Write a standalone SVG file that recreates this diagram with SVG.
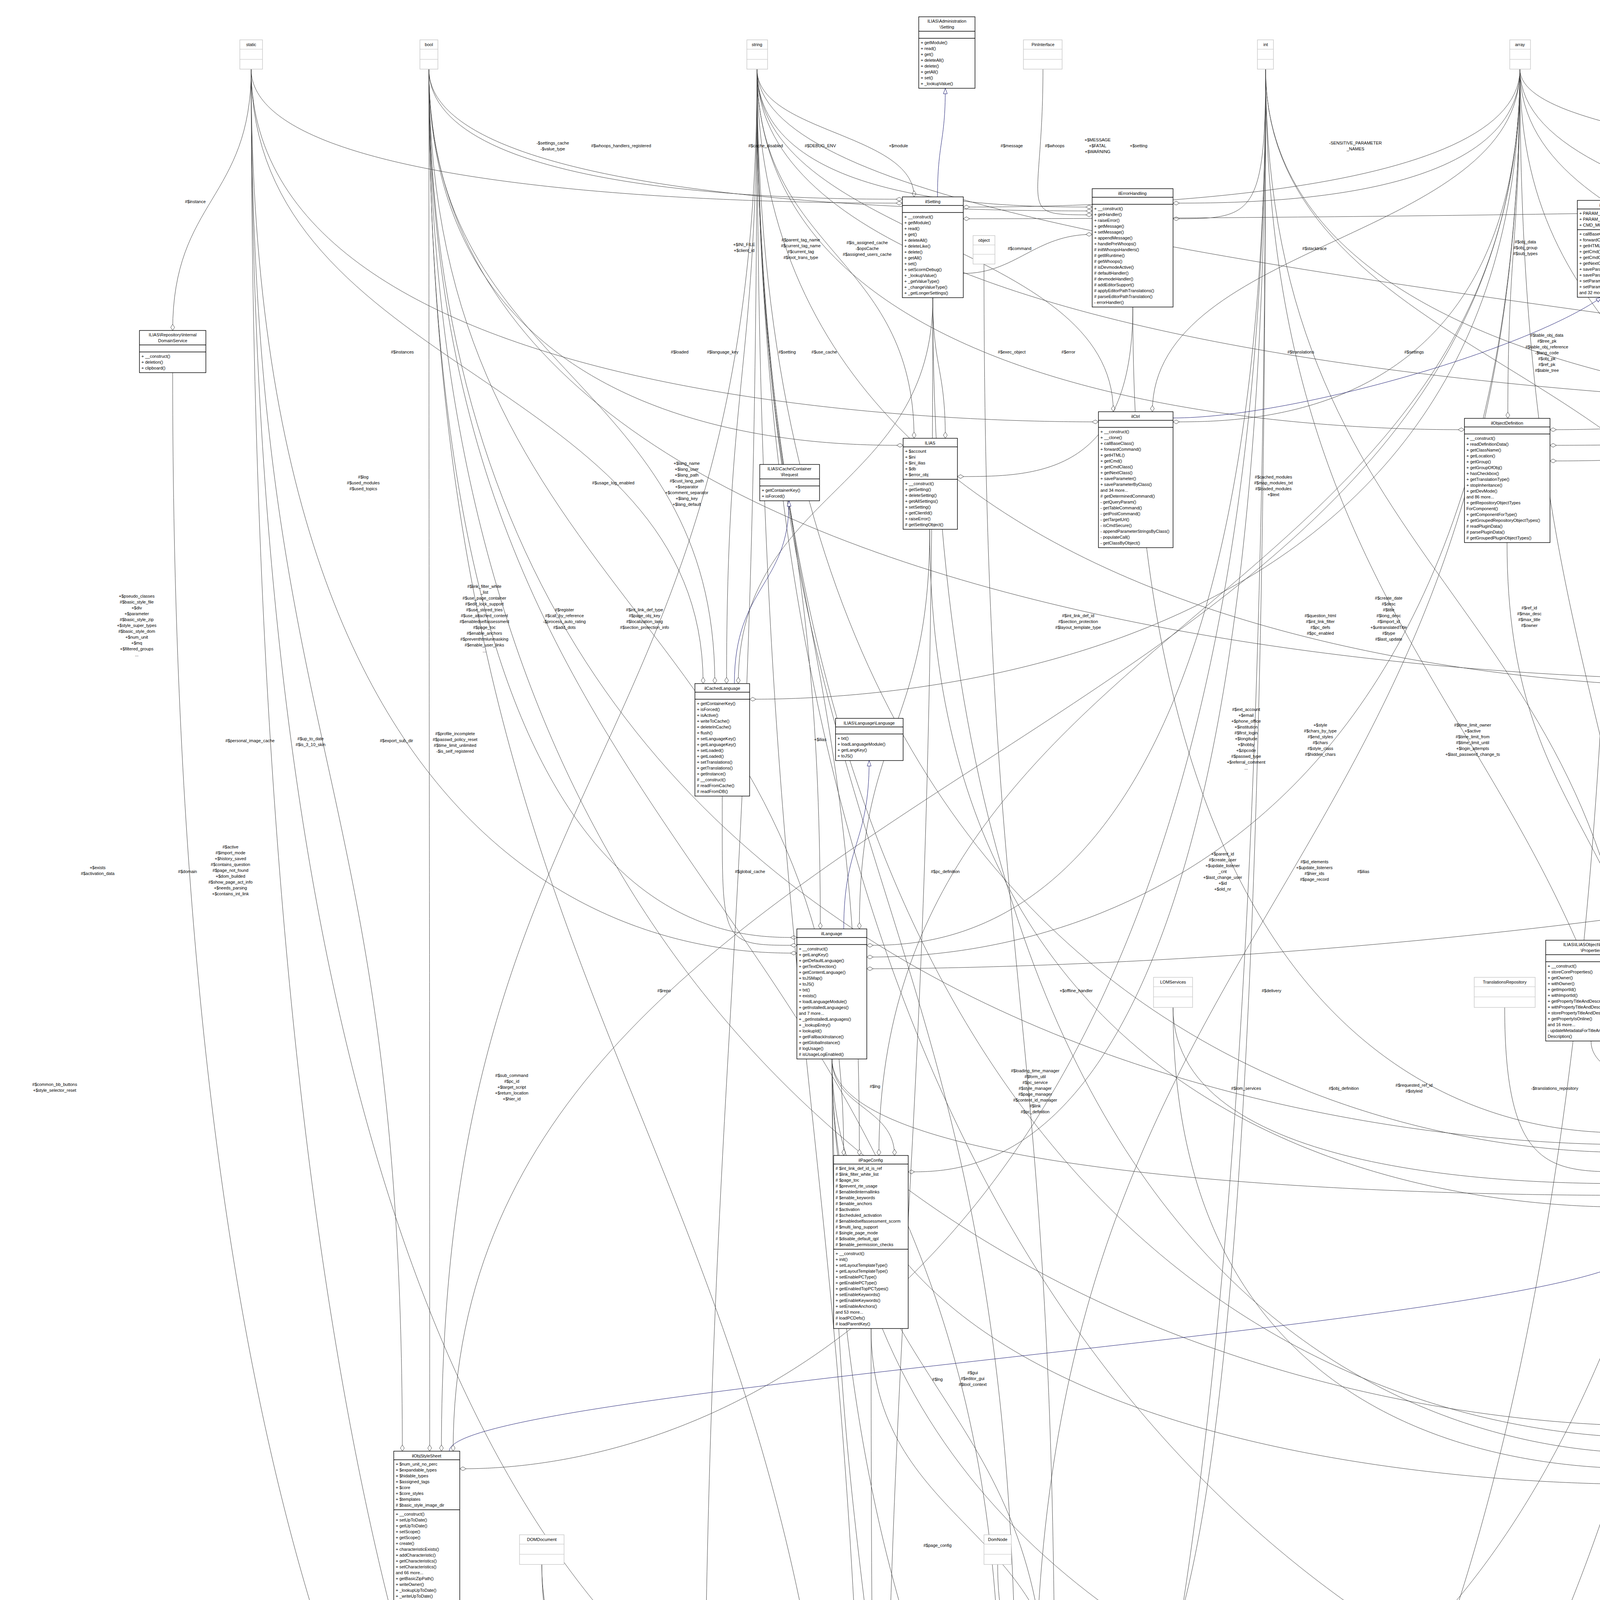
<svg xmlns="http://www.w3.org/2000/svg" width="7895" height="6132" viewBox="0 0 7895 6132">
<style>
.b{fill:#fff;stroke:#000;stroke-width:1.4}
.g{fill:#bfbfbf;stroke:#000;stroke-width:1.4}
.p{fill:#fff;stroke:#bfbfbf;stroke-width:1.2}
.s{fill:none;stroke:#000;stroke-width:1.4}
.sp{fill:none;stroke:#bfbfbf;stroke-width:1.2}
.t{font-family:"Liberation Sans",Arial,Helvetica,sans-serif;font-size:11px;fill:#000}
.c{text-anchor:middle}
.l{font-family:"Liberation Sans",Arial,Helvetica,sans-serif;font-size:11px;fill:#000;text-anchor:middle}
.e{fill:none;stroke:#404040;stroke-width:1;marker-end:url(#dia)}
.i{fill:none;stroke:#191970;stroke-width:1;marker-end:url(#tri)}
</style>
<defs>
<marker id="dia" markerUnits="userSpaceOnUse" markerWidth="18" markerHeight="12" refX="17" refY="6" orient="auto"><path d="M1,6 L9,1 L17,6 L9,11 Z" fill="#fff" stroke="#404040" stroke-width="1"/></marker>
<marker id="tri" markerUnits="userSpaceOnUse" markerWidth="16" markerHeight="12" refX="15" refY="6" orient="auto"><path d="M1,1 L15,6 L1,11 Z" fill="#fff" stroke="#191970" stroke-width="1"/></marker>
</defs>
<rect width="7895" height="6132" fill="#fff"/>
<g id="connectors">
<path class="e" d="M643 177 C643 511 442 511 442 846"/>
<path class="e" d="M643 177 C643 520 2110 520 2310 520"/>
<path class="e" d="M643 177 C643 1946 1030 1946 1030 3715"/>
<path class="e" d="M643 177 C643 2440 1840 2440 2040 2440"/>
<path class="e" d="M643 177 C643 4640 2320 4640 2520 4640"/>
<path class="e" d="M643 177 C643 5700 1936 5700 2136 5700"/>
<path class="e" d="M643 177 C643 963 1800 963 1800 1750"/>
<path class="e" d="M643 177 C643 1080 2612 1080 2812 1080"/>
<path class="e" d="M1098 177 C1098 510 2110 510 2310 510"/>
<path class="e" d="M1098 177 C1098 540 2596 540 2796 540"/>
<path class="e" d="M1098 177 C1098 2400 1840 2400 2040 2400"/>
<path class="e" d="M1098 177 C1098 1140 2112 1140 2312 1140"/>
<path class="e" d="M1098 177 C1098 1567 2160 1567 2160 2958"/>
<path class="e" d="M1098 177 C1098 1946 1100 1946 1100 3715"/>
<path class="e" d="M1098 177 C1098 2294 2560 2294 2560 4412"/>
<path class="e" d="M1098 177 C1098 2930 3970 2930 4170 2930"/>
<path class="e" d="M1098 177 C1098 3650 4028 3650 4228 3650"/>
<path class="e" d="M1098 177 C1098 1740 4226 1740 4426 1740"/>
<path class="e" d="M1098 177 C1098 2852 2180 2852 2180 5527"/>
<path class="e" d="M1098 177 C1098 963 1830 963 1830 1750"/>
<path class="e" d="M1938 177 C1938 340 2340 340 2340 504"/>
<path class="e" d="M1938 177 C1938 530 2596 530 2796 530"/>
<path class="e" d="M1938 177 C1938 650 2340 650 2340 1122"/>
<path class="e" d="M1938 177 C1938 1277 2100 1277 2100 2378"/>
<path class="e" d="M1938 177 C1938 963 1860 963 1860 1750"/>
<path class="e" d="M1938 177 C1938 1567 2200 1567 2200 2958"/>
<path class="e" d="M1938 177 C1938 1946 1130 1946 1130 3715"/>
<path class="e" d="M1938 177 C1938 2294 2600 2294 2600 4412"/>
<path class="e" d="M1938 177 C1938 2612 1800 2612 1800 5047"/>
<path class="e" d="M1938 177 C1938 2852 2220 2852 2220 5527"/>
<path class="e" d="M1938 177 C1938 615 2850 615 2850 1054"/>
<path class="e" d="M1938 177 C1938 1100 3549 1100 3749 1100"/>
<path class="e" d="M1938 177 C1938 2950 3970 2950 4170 2950"/>
<path class="e" d="M1938 177 C1938 3680 4028 3680 4228 3680"/>
<path class="e" d="M1938 177 C1938 1760 4226 1760 4426 1760"/>
<path class="e" d="M1938 177 C1938 1050 5048 1050 5248 1050"/>
<path class="e" d="M1938 177 C1938 4620 4805 4620 5005 4620"/>
<path class="e" d="M1938 177 C1938 832 6700 832 6700 1487"/>
<path class="e" d="M3240 177 C3240 560 3203 560 3003 560"/>
<path class="e" d="M3240 177 C3240 942 4480 942 4480 1708"/>
<path class="e" d="M3240 177 C3240 1523 4200 1523 4200 2869"/>
<path class="e" d="M3240 177 C3240 1880 4260 1880 4260 3582"/>
<path class="e" d="M3240 177 C3240 4450 2954 4450 2754 4450"/>
<path class="e" d="M3240 177 C3240 3000 2525 3000 2325 3000"/>
<path class="e" d="M3240 177 C3240 3760 1377 3760 1177 3760"/>
<path class="e" d="M3240 177 C3240 5600 2518 5600 2318 5600"/>
<path class="e" d="M3240 177 C3240 1080 5048 1080 5248 1080"/>
<path class="e" d="M3240 177 C3240 2420 2419 2420 2219 2420"/>
<path class="e" d="M3891 177 C3891 520 3203 520 3003 520"/>
<path class="e" d="M3891 177 C3891 1080 3203 1080 3003 1080"/>
<path class="e" d="M3891 177 C3891 624 3860 624 3860 1071"/>
<path class="e" d="M3891 177 C3891 942 4520 942 4520 1708"/>
<path class="e" d="M3891 177 C3891 683 4950 683 4950 1189"/>
<path class="e" d="M3891 177 C3891 374 4890 374 4890 571"/>
<path class="e" d="M3891 177 C3891 615 2950 615 2950 1054"/>
<path class="e" d="M3891 177 C3891 598 5300 598 5300 1019"/>
<path class="e" d="M3891 177 C3891 1880 4300 1880 4300 3582"/>
<path class="e" d="M3891 177 C3891 2294 2650 2294 2650 4412"/>
<path class="e" d="M3891 177 C3891 1567 2250 1567 2250 2958"/>
<path class="e" d="M3891 177 C3891 1790 2119 1790 1919 1790"/>
<path class="e" d="M3891 177 C3891 2450 2419 2450 2219 2450"/>
<path class="e" d="M3891 177 C3891 1946 1160 1946 1160 3715"/>
<path class="e" d="M3891 177 C3891 530 2666 530 2466 530"/>
<path class="e" d="M5551 177 C5551 344 5080 344 5080 511"/>
<path class="e" d="M5551 177 C5551 374 5860 374 5860 571"/>
<path class="e" d="M5551 177 C5551 352 6110 352 6110 527"/>
<path class="e" d="M5551 177 C5551 345 6400 345 6400 513"/>
<path class="e" d="M5551 177 C5551 1730 4851 1730 4651 1730"/>
<path class="e" d="M5551 177 C5551 598 5400 598 5400 1019"/>
<path class="e" d="M5551 177 C5551 3650 4631 3650 4431 3650"/>
<path class="e" d="M5551 177 C5551 2930 4598 2930 4398 2930"/>
<path class="e" d="M5551 177 C5551 1100 4168 1100 3968 1100"/>
<path class="e" d="M2519 676 C2519 2544 2700 2544 2700 4412"/>
<path class="e" d="M2670 177 C2670 550 2596 550 2796 550"/>
<path class="e" d="M7706 256 C7706 560 2666 560 2466 560"/>
<path class="e" d="M7706 256 C7706 1760 4851 1760 4651 1760"/>
<path class="e" d="M7706 256 C7706 2960 4598 2960 4398 2960"/>
<path class="e" d="M7706 256 C7706 3700 4631 3700 4431 3700"/>
<path class="e" d="M7706 256 C7706 1100 5666 1100 5466 1100"/>
<path class="e" d="M7706 256 C7706 1800 5637 1800 5437 1800"/>
<path class="e" d="M7706 256 C7706 5960 4933 5960 4733 5960"/>
<path class="e" d="M7706 256 C7706 1580 7039 1580 6839 1580"/>
<path class="e" d="M7706 256 C7706 4500 2954 4500 2754 4500"/>
<path class="e" d="M7706 256 C7706 2480 2419 2480 2219 2480"/>
<path class="e" d="M7706 256 C7706 1140 4168 1140 3968 1140"/>
<path class="e" d="M7706 256 C7706 1220 5236 1220 5036 1220"/>
<path class="e" d="M4518 741 C4518 1224 4560 1224 4560 1708"/>
<path class="e" d="M4518 741 C4518 965 4990 965 4990 1189"/>
<path class="e" d="M4518 741 C4518 1805 4300 1805 4300 2869"/>
<path class="e" d="M4518 741 C4518 1120 5048 1120 5248 1120"/>
<path class="e" d="M4518 741 C4518 4600 2954 4600 2754 4600"/>
<path class="e" d="M4518 741 C4518 2160 4350 2160 4350 3582"/>
<path class="e" d="M4518 741 C4518 5620 2518 5620 2318 5620"/>
<path class="e" d="M2388 762 C2388 942 2420 942 2420 1122"/>
<path class="e" d="M2466 700 C2600 700 2650 600 2796 600"/>
<path class="e" d="M2388 762 C2388 1256 1890 1256 1890 1750"/>
<path class="e" d="M2388 762 C2388 3720 4028 3720 4228 3720"/>
<path class="e" d="M2388 762 C2388 3144 2260 3144 2260 5527"/>
<path class="e" d="M4128 761 C4128 5640 2518 5640 2318 5640"/>
<path class="e" d="M5080 754 C5080 1180 4168 1180 3968 1180"/>
<path class="e" d="M5080 754 C5080 972 5010 972 5010 1189"/>
<path class="e" d="M5307 671 C5307 1240 5236 1240 5036 1240"/>
<path class="e" d="M4850 694 C4850 942 4970 942 4970 1189"/>
<path class="e" d="M5868 694 C5868 919 6680 919 6680 1144"/>
<path class="e" d="M6417 756 C6417 950 6700 950 6700 1144"/>
<path class="e" d="M6633 671 C6633 908 6720 908 6720 1144"/>
<path class="e" d="M6838 711 C6838 928 6740 928 6740 1144"/>
<path class="e" d="M7023 740 C7023 1160 7015 1160 6815 1160"/>
<path class="e" d="M7239 716 C7239 1190 7015 1190 6815 1190"/>
<path class="e" d="M7555 678 C7555 1220 7015 1220 6815 1220"/>
<path class="e" d="M5902 2808 C5902 5680 2518 5680 2318 5680"/>
<path class="e" d="M6736 1327 C6736 3800 4631 3800 4431 3800"/>
<path class="e" d="M4386 1341 C4386 1524 4440 1524 4440 1708"/>
<path class="e" d="M4970 1282 C4970 2990 4598 2990 4398 2990"/>
<path class="e" d="M4970 1282 C4970 1780 4851 1780 4651 1780"/>
<path class="e" d="M5357 1457 C5357 1613 5340 1613 5340 1769"/>
<path class="e" d="M5357 1457 C5357 3020 4598 3020 4398 3020"/>
<path class="e" d="M5300 2012 C5300 3050 4598 3050 4398 3050"/>
<path class="e" d="M3858 1389 C3858 2129 4250 2129 4250 2869"/>
<path class="e" d="M4073 2665 C4073 2767 4280 2767 4280 2869"/>
<path class="e" d="M4311 2588 C4311 2728 4340 2728 4340 2869"/>
<path class="e" d="M3852 2579 C3852 3000 3970 3000 4170 3000"/>
<path class="e" d="M3003 2579 C3003 3030 3970 3030 4170 3030"/>
<path class="e" d="M3003 2579 C3003 3760 4028 3760 4228 3760"/>
<path class="e" d="M4330 4340 C4330 5700 2518 5700 2318 5700"/>
<path class="e" d="M4330 4340 C4330 4660 4805 4660 5005 4660"/>
<path class="e" d="M4896 3219 C4896 3880 4631 3880 4431 3880"/>
<path class="e" d="M4538 2076 C4538 3334 5100 3334 5100 4592"/>
<path class="e" d="M4538 2076 C4538 2900 4598 2900 4398 2900"/>
<path class="e" d="M5915 3984 C5915 4620 5370 4620 5170 4620"/>
<path class="e" d="M5087 4790 C5087 5341 4640 5341 4640 5892"/>
<path class="e" d="M2130 2711 C2130 2835 2290 2835 2290 2958"/>
<path class="e" d="M2130 2711 C2130 3060 3970 3060 4170 3060"/>
<path class="e" d="M2130 2711 C2130 3561 2680 3561 2680 4412"/>
<path class="e" d="M2130 2711 C2130 4119 2300 4119 2300 5527"/>
<path class="e" d="M2130 2711 C2130 3800 4028 3800 4228 3800"/>
<path class="e" d="M2130 2711 C2130 4700 4805 4700 5005 4700"/>
<path class="e" d="M2130 2711 C2130 5940 4331 5940 4531 5940"/>
<path class="e" d="M1849 2038 C1849 2420 1840 2420 2040 2420"/>
<path class="e" d="M2380 1355 C2380 1866 2200 1866 2200 2378"/>
<path class="e" d="M2380 1355 C2380 3090 3970 3090 4170 3090"/>
<path class="e" d="M2230 3401 C2230 3906 2720 3906 2720 4412"/>
<path class="e" d="M2230 3401 C2230 4464 2240 4464 2240 5527"/>
<path class="e" d="M1387 4005 C1387 4660 2320 4660 2520 4660"/>
<path class="e" d="M1387 4005 C1387 4526 1760 4526 1760 5047"/>
<path class="e" d="M2554 4005 C2554 4208 2610 4208 2610 4412"/>
<path class="e" d="M1907 4738 C1907 4892 1930 4892 1930 5047"/>
<path class="e" d="M1568 4741 C1568 5090 1535 5090 1735 5090"/>
<path class="e" d="M1760 4746 C1760 4896 1860 4896 1860 5047"/>
<path class="e" d="M2637 4990 C2637 5190 2154 5190 1954 5190"/>
<path class="e" d="M2637 4990 C2637 5258 2280 5258 2280 5527"/>
<path class="e" d="M1845 5455 C1845 5600 1936 5600 2136 5600"/>
<path class="e" d="M848 5276 C848 5640 1936 5640 2136 5640"/>
<path class="e" d="M1032 5341 C1032 5650 1936 5650 2136 5650"/>
<path class="e" d="M1090 4218 C1090 5660 1936 5660 2136 5660"/>
<path class="e" d="M5791 2341 C5791 5660 2518 5660 2318 5660"/>
<path class="e" d="M2900 786 C2900 1220 2651 1220 2451 1220"/>
<path class="e" d="M2900 786 C2900 2900 3970 2900 4170 2900"/>
<path class="e" d="M442 954 C442 5620 1936 5620 2136 5620"/>
<path class="e" d="M6733 1670 C6733 3900 4631 3900 4431 3900"/>
<path class="i" d="M3003 1070 C3300 1070 3900 900 4100 761"/>
<path class="i" d="M7330 548 C7330 400 7330 400 7330 264"/>
<path class="i" d="M7540 585 C7540 420 7420 420 7420 264"/>
<path class="i" d="M5902 2750 C5902 1700 6122 1700 6122 740"/>
<path class="i" d="M4330 3582 L4330 3487"/>
<path class="i" d="M1150 3715 C1150 3560 3900 3400 4170 3225"/>
<path class="i" d="M5900 3926 C5900 3600 5783 3600 5783 3310"/>
<path class="i" d="M5915 3926 C5915 3600 6045 3600 6045 3248"/>
<path class="i" d="M5930 3926 C5930 3600 6291 3600 6291 3282"/>
<path class="i" d="M4531 5960 C4000 5900 2800 5750 2318 5720"/>
<path class="i" d="M1880 1750 C1880 1500 2020 1500 2020 1282"/>
<path class="i" d="M2160 2378 C2160 2160 2225 2160 2225 1947"/>
<path class="i" d="M848 5213 C848 4970 900 4970 900 4721"/>
<path class="i" d="M2400 504 C2400 365 2420 365 2420 226"/>
<g id="labels">
<text class="l" x="500" y="520">#$instance</text>
<text class="l" x="1030" y="905">#$instances</text>
<text class="l" x="1415" y="370">-$settings_cache</text><text class="l" x="1415" y="385">-$value_type</text>
<text class="l" x="1590" y="377">#$whoops_handlers_registered</text>
<text class="l" x="1960" y="377">#$cache_disabled</text>
<text class="l" x="2100" y="377">#$DEBUG_ENV</text>
<text class="l" x="1905" y="630">+$INI_FILE</text><text class="l" x="1905" y="645">+$client_id</text>
<text class="l" x="2300" y="377">+$module</text>
<text class="l" x="2590" y="377">#$message</text>
<text class="l" x="2050" y="618">#$parent_tag_name</text><text class="l" x="2050" y="633">#$current_tag_name</text><text class="l" x="2050" y="648">#$current_tag</text><text class="l" x="2050" y="663">#$root_trans_type</text>
<text class="l" x="2220" y="625">#$is_assigned_cache</text><text class="l" x="2220" y="640">-$opsCache</text><text class="l" x="2220" y="655">#$assigned_users_cache</text>
<text class="l" x="1740" y="905">#$loaded</text>
<text class="l" x="1850" y="905">#$language_key</text>
<text class="l" x="2015" y="905">#$setting</text>
<text class="l" x="2110" y="905">#$use_cache</text>
<text class="l" x="2590" y="905">#$exec_object</text>
<text class="l" x="2700" y="377">#$whoops</text>
<text class="l" x="2810" y="362">+$MESSAGE</text><text class="l" x="2810" y="377">+$FATAL</text><text class="l" x="2810" y="392">+$WARNING</text>
<text class="l" x="2915" y="377">+$setting</text>
<text class="l" x="3470" y="370">-SENSITIVE_PARAMETER</text><text class="l" x="3470" y="385">_NAMES</text>
<text class="l" x="4250" y="377">#$db</text>
<text class="l" x="4780" y="305">+CMD_MODE_HTML</text><text class="l" x="4780" y="320">+PARAM_CMD</text><text class="l" x="4780" y="335">+PARAM_CMD_FALLBACK</text><text class="l" x="4780" y="350">+PARAM_CMD_MODE</text><text class="l" x="4780" y="365">+PARAM_CMD_CLASS</text><text class="l" x="4780" y="380">+CMD_POST</text><text class="l" x="4780" y="395">+CMD_MODE_PROCESS</text><text class="l" x="4780" y="410">+PROTECTED_PARAMETERS</text><text class="l" x="4780" y="425">+PARAM_CID_PATH</text><text class="l" x="4780" y="440">+PARAM_CSRF_TOKEN</text><text class="l" x="4780" y="455">...</text>
<text class="l" x="5000" y="377">#$event_handling_data</text>
<text class="l" x="5180" y="377">+PLUGIN_BASE_PATH</text>
<text class="l" x="5440" y="377">#$observer_groups</text>
<text class="l" x="5960" y="370">-$id_cache</text><text class="l" x="5960" y="385">-$cache</text>
<text class="l" x="6190" y="340">+MESSAGE_TYPE_SUCCESS</text><text class="l" x="6190" y="355">+MESSAGE_TYPE_FAILURE</text><text class="l" x="6190" y="370">+MESSAGE_TYPE_INFO</text><text class="l" x="6190" y="385">+MESSAGE_TYPES</text><text class="l" x="6190" y="400">+MESSAGE_TYPE_QUESTION</text><text class="l" x="6190" y="415">+DEFAULT_BLOCK</text>
<text class="l" x="7780" y="640">+TABLE_NAME</text>
<text class="l" x="2610" y="640">#$command</text>
<text class="l" x="3365" y="640">#$stacktrace</text>
<text class="l" x="3905" y="623">#$obj_data</text><text class="l" x="3905" y="638">#$obj_group</text><text class="l" x="3905" y="653">#$sub_types</text>
<text class="l" x="4358" y="623">-MODE_REPOSITORY</text><text class="l" x="4358" y="638">+MODE_ADMINISTRATION</text><text class="l" x="4358" y="653">+MODE_WORKSPACE</text>
<text class="l" x="4718" y="640">#$listener</text>
<text class="l" x="5280" y="640">#$db</text>
<text class="l" x="5690" y="602">+FILTER_NOT_INTERNAL</text><text class="l" x="5690" y="617">+FILTER_ALL_GLOBAL</text><text class="l" x="5690" y="632">+FILTER_ALL</text><text class="l" x="5690" y="647">+FILTER_INTERNAL</text><text class="l" x="5690" y="662">+FILTER_TEMPLATES</text><text class="l" x="5690" y="677">+FILTER_ALL_LOCAL</text>
<text class="l" x="2735" y="905">#$error</text>
<text class="l" x="3330" y="905">#$translations</text>
<text class="l" x="3620" y="905">#$settings</text>
<text class="l" x="3960" y="862">#$table_obj_data</text><text class="l" x="3960" y="877">#$tree_pk</text><text class="l" x="3960" y="892">#$table_obj_reference</text><text class="l" x="3960" y="907">-$lang_code</text><text class="l" x="3960" y="922">#$obj_pk</text><text class="l" x="3960" y="937">#$ref_pk</text><text class="l" x="3960" y="952">#$table_tree</text>
<text class="l" x="4126" y="890">#$tree_id</text><text class="l" x="4126" y="905">-$gap</text><text class="l" x="4126" y="920">#$root_id</text>
<text class="l" x="4320" y="862">#$loc_preloaded</text><text class="l" x="4320" y="877">#$translation_cache</text><text class="l" x="4320" y="892">#$is_saved_cache</text><text class="l" x="4320" y="907">-$in_tree_cache</text><text class="l" x="4320" y="922">-$obj_id_cache</text><text class="l" x="4320" y="937">#$parent_cache</text><text class="l" x="4320" y="952">#$parent_type_cache</text><text class="l" x="4320" y="967">#$depth_cache</text>
<text class="l" x="4630" y="905">#$logger</text>
<text class="l" x="4700" y="905">#$log</text>
<text class="l" x="4870" y="905">#$component_repository</text>
<text class="l" x="5040" y="905">-$event_handling_data</text>
<text class="l" x="5330" y="905">#$component_factory</text>
<text class="l" x="5910" y="905">#$events</text>
<text class="l" x="6590" y="905">#$collections</text>
<text class="l" x="6710" y="905">#$preloader</text>
<text class="l" x="6830" y="905">#$flavours</text>
<text class="l" x="6960" y="905">#$consumers</text>
<text class="l" x="7130" y="905">#$container_manager</text>
<text class="l" x="7290" y="905">#$manager</text>
<text class="l" x="7540" y="905">#$db</text>
<text class="l" x="7690" y="905">#$db</text>
<text class="l" x="5550" y="820">+TREE_TYPE_NESTED_SET</text><text class="l" x="5550" y="835">+RELATION_PARENT</text><text class="l" x="5550" y="850">+RELATION_CHILD</text><text class="l" x="5550" y="865">+TREE_TYPE_MATERIALIZED</text><text class="l" x="5550" y="880">_PATH</text><text class="l" x="5550" y="895">#DEFAULT_LANGUAGE</text><text class="l" x="5550" y="910">+RELATION_SIBLING</text><text class="l" x="5550" y="925">+POS_FIRST_NODE</text><text class="l" x="5550" y="940">+RELATION_EQUALS</text><text class="l" x="5550" y="955">+POS_LAST_NODE</text><text class="l" x="5550" y="970">+RELATION_NONE</text><text class="l" x="5550" y="985">...</text>
<text class="l" x="6040" y="862">#QPL_KEY</text><text class="l" x="6040" y="877">#ERROR_KEY</text><text class="l" x="6040" y="892">#BASE_SESSION_KEY</text><text class="l" x="6040" y="907">#TXT_LANG_KEY</text><text class="l" x="6040" y="922">#SUB_CMD_KEY</text><text class="l" x="6040" y="937">#WEP_KEY</text>
<text class="l" x="4500" y="1580">-$tree_impl</text>
<text class="l" x="4730" y="1580">+$objectList</text>
<text class="l" x="4880" y="1580">#$eventHandler</text>
<text class="l" x="4600" y="1240">#$logger</text>
<text class="l" x="5020" y="1240">#$logger</text>
<text class="l" x="5360" y="1580">#$rbacreview</text>
<text class="l" x="5990" y="1560">+TABLE_OBJECT_DATA</text><text class="l" x="5990" y="1575">+LONG_DESC_LENGTH</text><text class="l" x="5990" y="1590">+TITLE_LENGTH</text><text class="l" x="5990" y="1605">+DESC_LENGTH</text>
<text class="l" x="6280" y="1882">+PASSWD_CRYPTED</text><text class="l" x="6280" y="1897">+NO_AVATAR_RID</text><text class="l" x="6280" y="1912">+PASSWD_PLAIN</text>
<text class="l" x="5650" y="1845">+$prefs</text><text class="l" x="5650" y="1860">+$user_defined_data</text><text class="l" x="5650" y="1875">#$interests_help</text><text class="l" x="5650" y="1890">_offered</text><text class="l" x="5650" y="1905">#$interests_general</text><text class="l" x="5650" y="1920">#$oldPrefs</text><text class="l" x="5650" y="1935">#$interests_help</text><text class="l" x="5650" y="1950">_looking</text>
<text class="l" x="6050" y="2530">-$cron_delete_user</text><text class="l" x="6050" y="2545">_reminder_mail</text>
<text class="l" x="6591" y="1583">#$db</text>
<text class="l" x="7442" y="2231">#$db</text>
<text class="l" x="4230" y="2230">#$obj_definition</text>
<text class="l" x="5320" y="2230">#$app_event_handler</text>
<text class="l" x="5510" y="2230">#$rbac_review</text>
<text class="l" x="4630" y="2540">#$tree</text>
<text class="l" x="5040" y="2540">#$log</text>
<text class="l" x="5520" y="2540">#$rbac_admin</text>
<text class="l" x="3980" y="2790">-$translations_repository</text>
<text class="l" x="4180" y="2790">-$object_properties</text>
<text class="l" x="4360" y="2790">-$properties_aggregator</text>
<text class="l" x="3190" y="2790">#$lom_services</text>
<text class="l" x="3440" y="2790">#$obj_definition</text>
<text class="l" x="3125" y="4375">#$user</text>
<text class="l" x="3320" y="4375">#$lom_services</text>
<text class="l" x="4800" y="4375">#$current_user</text>
<text class="l" x="4980" y="3585">#$date_format_factory</text>
<text class="l" x="5120" y="3180">#$tree</text>
<text class="l" x="5540" y="3960">#$edit_repo</text>
<text class="l" x="5560" y="4380">#$access</text>
<text class="l" x="5610" y="5250">#$user</text>
<text class="l" x="4950" y="5570">#$service</text>
<text class="l" x="1920" y="2235">#$global_cache</text>
<text class="l" x="2100" y="1897">+$ilias</text>
<text class="l" x="2240" y="2785">#$lng</text>
<text class="l" x="2420" y="2235">#$pc_definition</text>
<text class="l" x="1700" y="2540">#$repo</text>
<text class="l" x="2400" y="3535">#$lng</text>
<text class="l" x="2000" y="4375">+$lng</text>
<text class="l" x="2180" y="4375">+$dom</text>
<text class="l" x="2650" y="4370">+$node</text>
<text class="l" x="2150" y="4690">+$page_config</text>
<text class="l" x="1350" y="5020">#$dom</text>
<text class="l" x="1700" y="5020">#$page_manager</text>
<text class="l" x="1790" y="5035">#$object</text>
<text class="l" x="1905" y="5020">+$dom_node</text>
<text class="l" x="2230" y="4995">#$pg_obj</text>
<text class="l" x="2520" y="5250">+$pg_obj</text>
<text class="l" x="1930" y="5490">+$content_obj</text>
<text class="l" x="1050" y="5490">#$error_manager</text>
<text class="l" x="1140" y="5490">#$request</text>
<text class="l" x="1190" y="5010">#$style</text>
<text class="l" x="460" y="4950">#$domain</text>
<text class="l" x="2400" y="3960">#$page_config</text>
<text class="l" x="2490" y="3518">#$gui</text><text class="l" x="2490" y="3533">#$editor_gui</text><text class="l" x="2490" y="3548">#$tool_context</text>
<text class="l" x="350" y="1530">+$pseudo_classes</text><text class="l" x="350" y="1545">#$basic_style_file</text><text class="l" x="350" y="1560">+$div</text><text class="l" x="350" y="1575">+$parameter</text><text class="l" x="350" y="1590">#$basic_style_zip</text><text class="l" x="350" y="1605">+$style_super_types</text><text class="l" x="350" y="1620">#$basic_style_dom</text><text class="l" x="350" y="1635">+$num_unit</text><text class="l" x="350" y="1650">+$mq</text><text class="l" x="350" y="1665">+$filtered_groups</text><text class="l" x="350" y="1680">...</text>
<text class="l" x="590" y="2172">#$active</text><text class="l" x="590" y="2187">#$import_mode</text><text class="l" x="590" y="2202">+$history_saved</text><text class="l" x="590" y="2217">#$contains_question</text><text class="l" x="590" y="2232">#$page_not_found</text><text class="l" x="590" y="2247">+$dom_builded</text><text class="l" x="590" y="2262">#$show_page_act_info</text><text class="l" x="590" y="2277">+$needs_parsing</text><text class="l" x="590" y="2292">+$contains_int_link</text>
<text class="l" x="250" y="2225">+$exists</text><text class="l" x="250" y="2240">#$activation_data</text>
<text class="l" x="480" y="2235">#$domain</text>
<text class="l" x="640" y="1900">#$personal_image_cache</text>
<text class="l" x="795" y="1895">#$up_to_date</text><text class="l" x="795" y="1910">#$is_3_10_skin</text>
<text class="l" x="1015" y="1900">#$export_sub_dir</text>
<text class="l" x="1165" y="1882">#$profile_incomplete</text><text class="l" x="1165" y="1897">#$passwd_policy_reset</text><text class="l" x="1165" y="1912">#$time_limit_unlimited</text><text class="l" x="1165" y="1927">-$is_self_registered</text>
<text class="l" x="1310" y="2757">#$sub_command</text><text class="l" x="1310" y="2772">#$pc_id</text><text class="l" x="1310" y="2787">+$target_script</text><text class="l" x="1310" y="2802">+$return_location</text><text class="l" x="1310" y="2817">+$hier_id</text>
<text class="l" x="140" y="2780">#$common_bb_buttons</text><text class="l" x="140" y="2795">+$style_selector_reset</text>
<text class="l" x="1240" y="1505">#$link_filter_white</text><text class="l" x="1240" y="1520">_list</text><text class="l" x="1240" y="1535">#$use_page_container</text><text class="l" x="1240" y="1550">#$edit_lock_support</text><text class="l" x="1240" y="1565">#$use_stored_tries</text><text class="l" x="1240" y="1580">#$use_attached_content</text><text class="l" x="1240" y="1595">#$enabledselfassessment</text><text class="l" x="1240" y="1610">#$page_toc</text><text class="l" x="1240" y="1625">#$enable_anchors</text><text class="l" x="1240" y="1640">#$preventhtmlunmasking</text><text class="l" x="1240" y="1655">#$enable_user_links</text><text class="l" x="1240" y="1670">...</text>
<text class="l" x="1445" y="1565">#$register</text><text class="l" x="1445" y="1580">#$call_by_reference</text><text class="l" x="1445" y="1595">-$process_auto_rating</text><text class="l" x="1445" y="1610">#$add_dots</text>
<text class="l" x="1650" y="1565">#$int_link_def_type</text><text class="l" x="1650" y="1580">#$page_obj_key</text><text class="l" x="1650" y="1595">#$localization_lang</text><text class="l" x="1650" y="1610">#$section_protection_info</text>
<text class="l" x="1758" y="1190">+$lang_name</text><text class="l" x="1758" y="1205">+$lang_user</text><text class="l" x="1758" y="1220">+$lang_path</text><text class="l" x="1758" y="1235">#$cust_lang_path</text><text class="l" x="1758" y="1250">+$separator</text><text class="l" x="1758" y="1265">+$comment_separator</text><text class="l" x="1758" y="1280">+$lang_key</text><text class="l" x="1758" y="1295">+$lang_default</text>
<text class="l" x="1570" y="1240">#$usage_log_enabled</text>
<text class="l" x="930" y="1225">#$log</text><text class="l" x="930" y="1240">#$used_modules</text><text class="l" x="930" y="1255">#$used_topics</text>
<text class="l" x="2760" y="1580">#$int_link_def_id</text><text class="l" x="2760" y="1595">#$section_protection</text><text class="l" x="2760" y="1610">#$layout_template_type</text>
<text class="l" x="3260" y="1225">#$cached_modules</text><text class="l" x="3260" y="1240">#$map_modules_txt</text><text class="l" x="3260" y="1255">#$loaded_modules</text><text class="l" x="3260" y="1270">+$text</text>
<text class="l" x="3380" y="1580">#$question_html</text><text class="l" x="3380" y="1595">#$int_link_filter</text><text class="l" x="3380" y="1610">#$pc_defs</text><text class="l" x="3380" y="1625">#$pc_enabled</text>
<text class="l" x="3555" y="1535">#$create_date</text><text class="l" x="3555" y="1550">#$desc</text><text class="l" x="3555" y="1565">#$title</text><text class="l" x="3555" y="1580">#$long_desc</text><text class="l" x="3555" y="1595">#$import_id</text><text class="l" x="3555" y="1610">+$untranslatedTitle</text><text class="l" x="3555" y="1625">#$type</text><text class="l" x="3555" y="1640">#$last_update</text>
<text class="l" x="3915" y="1560">#$ref_id</text><text class="l" x="3915" y="1575">#$max_desc</text><text class="l" x="3915" y="1590">#$max_title</text><text class="l" x="3915" y="1605">#$owner</text>
<text class="l" x="3190" y="1820">#$ext_account</text><text class="l" x="3190" y="1835">+$email</text><text class="l" x="3190" y="1850">+$phone_office</text><text class="l" x="3190" y="1865">+$institution</text><text class="l" x="3190" y="1880">#$first_login</text><text class="l" x="3190" y="1895">+$longitude</text><text class="l" x="3190" y="1910">+$hobby</text><text class="l" x="3190" y="1925">+$zipcode</text><text class="l" x="3190" y="1940">#$passwd_type</text><text class="l" x="3190" y="1955">+$referral_comment</text><text class="l" x="3190" y="1970">...</text>
<text class="l" x="3380" y="1860">+$style</text><text class="l" x="3380" y="1875">#$chars_by_type</text><text class="l" x="3380" y="1890">#$end_styles</text><text class="l" x="3380" y="1905">#$chars</text><text class="l" x="3380" y="1920">#$style_class</text><text class="l" x="3380" y="1935">#$hidden_chars</text>
<text class="l" x="3770" y="1860">#$time_limit_owner</text><text class="l" x="3770" y="1875">+$active</text><text class="l" x="3770" y="1890">#$time_limit_from</text><text class="l" x="3770" y="1905">#$time_limit_until</text><text class="l" x="3770" y="1920">+$login_attempts</text><text class="l" x="3770" y="1935">+$last_password_change_ts</text>
<text class="l" x="4283" y="1890">#$obj_log</text><text class="l" x="4283" y="1905">#$log</text>
<text class="l" x="3130" y="2190">+$parent_id</text><text class="l" x="3130" y="2205">#$create_user</text><text class="l" x="3130" y="2220">+$update_listener</text><text class="l" x="3130" y="2235">_cnt</text><text class="l" x="3130" y="2250">+$last_change_user</text><text class="l" x="3130" y="2265">+$id</text><text class="l" x="3130" y="2280">+$old_nr</text>
<text class="l" x="3365" y="2210">#$id_elements</text><text class="l" x="3365" y="2225">+$update_listeners</text><text class="l" x="3365" y="2240">#$hier_ids</text><text class="l" x="3365" y="2255">#$page_record</text>
<text class="l" x="3490" y="2235">#$ilias</text>
<text class="l" x="2755" y="2540">+$offline_handler</text>
<text class="l" x="3255" y="2540">#$delivery</text>
<text class="l" x="2650" y="2745">#$loading_time_manager</text><text class="l" x="2650" y="2760">#$form_util</text><text class="l" x="2650" y="2775">#$pc_service</text><text class="l" x="2650" y="2790">#$style_manager</text><text class="l" x="2650" y="2805">#$page_manager</text><text class="l" x="2650" y="2820">#$content_id_manager</text><text class="l" x="2650" y="2835">#$link</text><text class="l" x="2650" y="2850">#$pc_definition</text>
<text class="l" x="3620" y="2782">#$requested_ref_id</text><text class="l" x="3620" y="2797">#$styleid</text>
</g>
</g>
<g id="n_static"><rect class="p" x="614" y="102" width="58" height="75"/><text class="t c" x="643" y="118">static</text><path class="sp" d="M614 126H672M614 152H672"/></g>
<g id="n_bool"><rect class="p" x="1075" y="102" width="46" height="75"/><text class="t c" x="1098" y="118">bool</text><path class="sp" d="M1075 126H1121M1075 152H1121"/></g>
<g id="n_string"><rect class="p" x="1912" y="102" width="53" height="75"/><text class="t c" x="1938" y="118">string</text><path class="sp" d="M1912 126H1965M1912 152H1965"/></g>
<g id="n_PinInterface"><rect class="p" x="2620" y="102" width="99" height="75"/><text class="t c" x="2670" y="118">PinInterface</text><path class="sp" d="M2620 126H2719M2620 152H2719"/></g>
<g id="n_int"><rect class="p" x="3219" y="102" width="41" height="75"/><text class="t c" x="3240" y="118">int</text><path class="sp" d="M3219 126H3260M3219 152H3260"/></g>
<g id="n_array"><rect class="p" x="3865" y="102" width="53" height="75"/><text class="t c" x="3891" y="118">array</text><path class="sp" d="M3865 126H3918M3865 152H3918"/></g>
<g id="n_const"><rect class="p" x="5525" y="102" width="53" height="75"/><text class="t c" x="5551" y="118">const</text><path class="sp" d="M5525 126H5578M5525 152H5578"/></g>
<g id="n_object"><rect class="p" x="2491" y="603" width="56" height="73"/><text class="t c" x="2519" y="619">object</text><path class="sp" d="M2491 627H2547M2491 651H2547"/></g>
<g id="n_DOMDocument"><rect class="p" x="1330" y="3929" width="114" height="76"/><text class="t c" x="1387" y="3945">DOMDocument</text><path class="sp" d="M1330 3953H1444M1330 3979H1444"/></g>
<g id="n_DomNode"><rect class="p" x="2519" y="3929" width="70" height="76"/><text class="t c" x="2554" y="3945">DomNode</text><path class="sp" d="M2519 3953H2589M2519 3979H2589"/></g>
<g id="n_DOMNode"><rect class="p" x="1866" y="4658" width="83" height="80"/><text class="t c" x="1907" y="4674">DOMNode</text><path class="sp" d="M1866 4682H1949M1866 4708H1949"/></g>
<g id="n_LOMServices"><rect class="p" x="2953" y="2502" width="100" height="77"/><text class="t c" x="3003" y="2518">LOMServices</text><path class="sp" d="M2953 2526H3053M2953 2552H3053"/></g>
<g id="n_TranslationsRepository"><rect class="p" x="3774" y="2502" width="156" height="77"/><text class="t c" x="3852" y="2518">TranslationsRepository</text><path class="sp" d="M3774 2526H3930M3774 2552H3930"/></g>
<g id="n_DataFormatFactory"><rect class="p" x="4829" y="3141" width="134" height="78"/><text class="t c" x="4896" y="3157">DataFormatFactory</text><path class="sp" d="M4829 3165H4963M4829 3191H4963"/></g>
<g id="n_DomainService"><rect class="b" x="357" y="846" width="170" height="108"/><text class="t c" x="442" y="861">ILIAS\Repository\Internal</text><text class="t c" x="442" y="876">DomainService</text><path class="s" d="M357 883H527M357 901H527"/><text class="t" x="362" y="916"><tspan x="362">+ __construct()</tspan><tspan x="362" dy="15">+ deletion()</tspan><tspan x="362" dy="15">+ clipboard()</tspan></text></g>
<g id="n_AdminSetting"><rect class="b" x="2352" y="43" width="144" height="183"/><text class="t c" x="2424" y="58">ILIAS\Administration</text><text class="t c" x="2424" y="73">\Setting</text><path class="s" d="M2352 80H2496M2352 98H2496"/><text class="t" x="2357" y="113"><tspan x="2357">+ getModule()</tspan><tspan x="2357" dy="15">+ read()</tspan><tspan x="2357" dy="15">+ get()</tspan><tspan x="2357" dy="15">+ deleteAll()</tspan><tspan x="2357" dy="15">+ delete()</tspan><tspan x="2357" dy="15">+ getAll()</tspan><tspan x="2357" dy="15">+ set()</tspan><tspan x="2357" dy="15">+ _lookupValue()</tspan></text></g>
<g id="n_ilSetting"><rect class="b" x="2310" y="504" width="156" height="258"/><text class="t c" x="2388" y="520">ilSetting</text><path class="s" d="M2310 526H2466M2310 544H2466"/><text class="t" x="2315" y="559"><tspan x="2315">+ __construct()</tspan><tspan x="2315" dy="15">+ getModule()</tspan><tspan x="2315" dy="15">+ read()</tspan><tspan x="2315" dy="15">+ get()</tspan><tspan x="2315" dy="15">+ deleteAll()</tspan><tspan x="2315" dy="15">+ deleteLike()</tspan><tspan x="2315" dy="15">+ delete()</tspan><tspan x="2315" dy="15">+ getAll()</tspan><tspan x="2315" dy="15">+ set()</tspan><tspan x="2315" dy="15">+ setScormDebug()</tspan><tspan x="2315" dy="15">+ _lookupValue()</tspan><tspan x="2315" dy="15">+ _getValueType()</tspan><tspan x="2315" dy="15">+ _changeValueType()</tspan><tspan x="2315" dy="15">+ _getLongerSettings()</tspan></text></g>
<g id="n_ilErrorHandling"><rect class="b" x="2796" y="483" width="207" height="303"/><text class="t c" x="2899" y="499">ilErrorHandling</text><path class="s" d="M2796 505H3003M2796 523H3003"/><text class="t" x="2801" y="538"><tspan x="2801">+ __construct()</tspan><tspan x="2801" dy="15">+ getHandler()</tspan><tspan x="2801" dy="15">+ raiseError()</tspan><tspan x="2801" dy="15">+ getMessage()</tspan><tspan x="2801" dy="15">+ setMessage()</tspan><tspan x="2801" dy="15">+ appendMessage()</tspan><tspan x="2801" dy="15">+ handlePreWhoops()</tspan><tspan x="2801" dy="15"># initWhoopsHandlers()</tspan><tspan x="2801" dy="15"># getIlRuntime()</tspan><tspan x="2801" dy="15"># getWhoops()</tspan><tspan x="2801" dy="15"># isDevmodeActive()</tspan><tspan x="2801" dy="15"># defaultHandler()</tspan><tspan x="2801" dy="15"># devmodeHandler()</tspan><tspan x="2801" dy="15"># addEditorSupport()</tspan><tspan x="2801" dy="15"># applyEditorPathTranslations()</tspan><tspan x="2801" dy="15"># parseEditorPathTranslation()</tspan><tspan x="2801" dy="15">- errorHandler()</tspan></text></g>
<g id="n_ilCtrlInterface"><rect class="b" x="4038" y="513" width="179" height="248"/><text class="t c" x="4127" y="529">ilCtrlInterface</text><path class="s" d="M4038 535H4217M4038 588H4217"/><text class="t" x="4043" y="550"><tspan x="4043">+ PARAM_REDIRECT</tspan><tspan x="4043" dy="15">+ PARAM_BASE_CLASS</tspan><tspan x="4043" dy="15">+ CMD_MODE_ASYNC</tspan></text><text class="t" x="4043" y="603"><tspan x="4043">+ callBaseClass()</tspan><tspan x="4043" dy="15">+ forwardCommand()</tspan><tspan x="4043" dy="15">+ getHTML()</tspan><tspan x="4043" dy="15">+ getCmd()</tspan><tspan x="4043" dy="15">+ getCmdClass()</tspan><tspan x="4043" dy="15">+ getNextClass()</tspan><tspan x="4043" dy="15">+ saveParameter()</tspan><tspan x="4043" dy="15">+ saveParameterByClass()</tspan><tspan x="4043" dy="15">+ setParameter()</tspan><tspan x="4043" dy="15">+ setParameterByClass()</tspan><tspan x="4043" dy="15">and 32 more...</tspan></text></g>
<g id="n_ilLogger"><rect class="b" x="4464" y="528" width="109" height="213"/><text class="t c" x="4518" y="544">ilLogger</text><path class="s" d="M4464 550H4573M4464 568H4573"/><text class="t" x="4469" y="583"><tspan x="4469">+ __construct()</tspan><tspan x="4469" dy="15">+ isHandling()</tspan><tspan x="4469" dy="15">+ log()</tspan><tspan x="4469" dy="15">+ dump()</tspan><tspan x="4469" dy="15">+ debug()</tspan><tspan x="4469" dy="15">+ info()</tspan><tspan x="4469" dy="15">+ notice()</tspan><tspan x="4469" dy="15">+ warning()</tspan><tspan x="4469" dy="15">+ error()</tspan><tspan x="4469" dy="15">+ critical()</tspan><tspan x="4469" dy="15">and 7 more...</tspan></text></g>
<g id="n_ilArtifactEventHandlingData"><rect class="b" x="4761" y="571" width="179" height="123"/><text class="t c" x="4850" y="587">ilArtifactEventHandlingData</text><path class="s" d="M4761 593H4940M4761 611H4940"/><text class="t" x="4766" y="626"><tspan x="4766">+ __construct()</tspan><tspan x="4766" dy="15">+ hasEvent()</tspan><tspan x="4766" dy="15">+ getEvent()</tspan><tspan x="4766" dy="15">+ getEventsByType()</tspan><tspan x="4766" dy="15"># readEventHandlingData()</tspan></text></g>
<g id="n_ilComponentRepository"><rect class="b" x="4967" y="511" width="228" height="243"/><text class="t c" x="5081" y="527">ilComponentRepository</text><path class="s" d="M4967 533H5195M4967 551H5195"/><text class="t" x="4972" y="566"><tspan x="4972">+ hasComponent()</tspan><tspan x="4972" dy="15">+ hasComponentId()</tspan><tspan x="4972" dy="15">+ getComponents()</tspan><tspan x="4972" dy="15">+ getComponentById()</tspan><tspan x="4972" dy="15">+ getComponentByTypeAndName()</tspan><tspan x="4972" dy="15">+ hasPluginSlotId()</tspan><tspan x="4972" dy="15">+ getPluginSlots()</tspan><tspan x="4972" dy="15">+ getPluginSlotById()</tspan><tspan x="4972" dy="15">+ hasPluginId()</tspan><tspan x="4972" dy="15">+ getPlugins()</tspan><tspan x="4972" dy="15">+ getPluginById()</tspan><tspan x="4972" dy="15">+ getPluginByName()</tspan><tspan x="4972" dy="15">+ hasActivatedPlugin()</tspan></text></g>
<g id="n_ilComponentFactory"><rect class="b" x="5221" y="593" width="173" height="78"/><text class="t c" x="5307" y="609">ilComponentFactory</text><path class="s" d="M5221 615H5394M5221 633H5394"/><text class="t" x="5226" y="648"><tspan x="5226">+ getPlugin()</tspan><tspan x="5226" dy="15">+ getActivePluginsInSlot()</tspan></text></g>
<g id="n_EventsSubject"><rect class="b" x="5789" y="571" width="158" height="123"/><text class="t c" x="5868" y="586">ILIAS\ResourceStorage</text><text class="t c" x="5868" y="601">\Events\Subject</text><path class="s" d="M5789 608H5947M5789 626H5947"/><text class="t" x="5794" y="641"><tspan x="5794">+ __construct()</tspan><tspan x="5794" dy="15">+ attach()</tspan><tspan x="5794" dy="15">+ detach()</tspan><tspan x="5794" dy="15"># initObserverGroup()</tspan></text></g>
<g id="n_GlobalTemplate"><rect class="b" x="6023" y="527" width="198" height="213"/><text class="t c" x="6122" y="543">ILIAS\UI\Core\GlobalTemplate</text><path class="s" d="M6023 549H6221M6023 567H6221"/><text class="t" x="6028" y="582"><tspan x="6028">+ hideFooter()</tspan><tspan x="6028" dy="15">+ setOnScreenMessage()</tspan><tspan x="6028" dy="15">+ addJavaScript()</tspan><tspan x="6028" dy="15">+ addOnLoadCode()</tspan><tspan x="6028" dy="15">+ getOnLoadCodeForAsynch()</tspan><tspan x="6028" dy="15">+ resetJavascript()</tspan><tspan x="6028" dy="15">+ fillJavaScriptFiles()</tspan><tspan x="6028" dy="15">+ addCss()</tspan><tspan x="6028" dy="15">+ addInlineCss()</tspan><tspan x="6028" dy="15">+ setBodyClass()</tspan><tspan x="6028" dy="15">and 32 more...</tspan></text></g>
<g id="n_Collections"><rect class="b" x="6327" y="513" width="181" height="243"/><text class="t c" x="6417" y="528">ILIAS\Export\ImportHandler</text><text class="t c" x="6417" y="543">\Parser\NodeInfo\Collection</text><text class="t c" x="6417" y="558">\Collections</text><path class="s" d="M6327 565H6508M6327 583H6508"/><text class="t" x="6332" y="598"><tspan x="6332">+ __construct()</tspan><tspan x="6332" dy="15">+ all()</tspan><tspan x="6332" dy="15">+ exists()</tspan><tspan x="6332" dy="15">+ atOrNull()</tspan><tspan x="6332" dy="15">+ get()</tspan><tspan x="6332" dy="15">+ store()</tspan><tspan x="6332" dy="15">+ clone()</tspan><tspan x="6332" dy="15">+ remove()</tspan><tspan x="6332" dy="15">+ rangeAsArray()</tspan><tspan x="6332" dy="15">+ rangeAsGenerator()</tspan><tspan x="6332" dy="15">+ sort()</tspan></text></g>
<g id="n_RepositoryPreloader"><rect class="b" x="6533" y="593" width="201" height="78"/><text class="t c" x="6633" y="608">ILIAS\ResourceStorage</text><text class="t c" x="6633" y="623">\Preloader\RepositoryPreloader</text><path class="s" d="M6533 630H6734M6533 648H6734"/><text class="t" x="6538" y="663">+ preload()</text></g>
<g id="n_Flavours"><rect class="b" x="6758" y="558" width="160" height="153"/><text class="t c" x="6838" y="573">ILIAS\ResourceStorage</text><text class="t c" x="6838" y="588">\Flavour\Flavours</text><path class="s" d="M6758 595H6918M6758 613H6918"/><text class="t" x="6763" y="628"><tspan x="6763">+ __construct()</tspan><tspan x="6763" dy="15">+ get()</tspan><tspan x="6763" dy="15">+ ensure()</tspan><tspan x="6763" dy="15">+ has()</tspan><tspan x="6763" dy="15">+ remove()</tspan><tspan x="6763" dy="15">+ possible()</tspan></text></g>
<g id="n_Consumers"><rect class="b" x="6944" y="527" width="158" height="213"/><text class="t c" x="7023" y="542">ILIAS\Legal\Documents</text><text class="t c" x="7023" y="557">\Consumer\Consumers</text><path class="s" d="M6944 564H7102M6944 582H7102"/><text class="t" x="6949" y="597"><tspan x="6949">+ __construct()</tspan><tspan x="6949" dy="15">+ download()</tspan><tspan x="6949" dy="15">+ inline()</tspan><tspan x="6949" dy="15">+ stream()</tspan><tspan x="6949" dy="15">+ src()</tspan><tspan x="6949" dy="15">+ downloadCollection()</tspan><tspan x="6949" dy="15">+ downloadResources()</tspan><tspan x="6949" dy="15">+ flavourUrls()</tspan><tspan x="6949" dy="15">+ containerZIP()</tspan><tspan x="6949" dy="15">+ containerURI()</tspan></text></g>
<g id="n_ContainerManager"><rect class="b" x="7130" y="548" width="218" height="168"/><text class="t c" x="7239" y="563">ILIAS\ResourceStorage</text><text class="t c" x="7239" y="578">\Manager\ContainerManager</text><path class="s" d="M7130 585H7348M7130 603H7348"/><text class="t" x="7135" y="618"><tspan x="7135">+ containerFromUpload()</tspan><tspan x="7135" dy="15">+ containerFromStream()</tspan><tspan x="7135" dy="15">+ createDirectoryInsideContainer()</tspan><tspan x="7135" dy="15">+ removePathInsideContainer()</tspan><tspan x="7135" dy="15">+ addUploadToContainer()</tspan><tspan x="7135" dy="15">+ addStreamToContainer()</tspan><tspan x="7135" dy="15"># normalizePath()</tspan></text></g>
<g id="n_Manager"><rect class="b" x="7475" y="585" width="160" height="93"/><text class="t c" x="7555" y="600">ILIAS\ResourceStorage</text><text class="t c" x="7555" y="615">\Manager\Manager</text><path class="s" d="M7475 622H7635M7475 640H7635"/><text class="t" x="7480" y="655"><tspan x="7480">+ upload()</tspan><tspan x="7480" dy="15">+ stream()</tspan></text></g>
<g id="n_BaseManager"><rect class="b" x="7245" y="6" width="233" height="258"/><text class="t c" x="7361" y="21">ILIAS\ResourceStorage</text><text class="t c" x="7361" y="36">\Manager\BaseManager</text><path class="s" d="M7245 43H7478M7245 61H7478"/><text class="t" x="7250" y="76"><tspan x="7250">+ __construct()</tspan><tspan x="7250" dy="15">+ publish()</tspan><tspan x="7250" dy="15">+ unpublish()</tspan><tspan x="7250" dy="15">+ find()</tspan><tspan x="7250" dy="15">+ getResource()</tspan><tspan x="7250" dy="15">+ remove()</tspan><tspan x="7250" dy="15">+ clone()</tspan><tspan x="7250" dy="15">+ appendNewRevision()</tspan><tspan x="7250" dy="15">+ replaceWithUpload()</tspan><tspan x="7250" dy="15">+ appendNewRevisionFromStream()</tspan><tspan x="7250" dy="15">and 6 more...</tspan><tspan x="7250" dy="15"># checkZIP()</tspan><tspan x="7250" dy="15"># newStreamBased()</tspan></text></g>
<g id="n_ilDBInterface"><rect class="b" x="7588" y="13" width="236" height="243"/><text class="t c" x="7706" y="29">ilDBInterface</text><path class="s" d="M7588 35H7824M7588 53H7824"/><text class="t" x="7593" y="68"><tspan x="7593">+ doesCollationSupportMB4Strings()</tspan><tspan x="7593" dy="15">+ sanitizeMB4StringIfNotSupported()</tspan><tspan x="7593" dy="15">+ initFromIniFile()</tspan><tspan x="7593" dy="15">+ connect()</tspan><tspan x="7593" dy="15">+ nextId()</tspan><tspan x="7593" dy="15">+ createTable()</tspan><tspan x="7593" dy="15">+ addPrimaryKey()</tspan><tspan x="7593" dy="15">+ createSequence()</tspan><tspan x="7593" dy="15">+ getSequenceName()</tspan><tspan x="7593" dy="15">+ tableExists()</tspan><tspan x="7593" dy="15">and 78 more...</tspan><tspan x="7593" dy="15">+ getReservedWords()</tspan><tspan x="7593" dy="15">+ isReservedWord()</tspan></text></g>
<g id="n_ILIAS"><rect class="b" x="2312" y="1122" width="139" height="233"/><text class="t c" x="2381" y="1138">ILIAS</text><path class="s" d="M2312 1144H2451M2312 1227H2451"/><text class="t" x="2317" y="1159"><tspan x="2317">+ $account</tspan><tspan x="2317" dy="15">+ $ini</tspan><tspan x="2317" dy="15">+ $ini_ilias</tspan><tspan x="2317" dy="15">+ $db</tspan><tspan x="2317" dy="15">+ $error_obj</tspan></text><text class="t" x="2317" y="1242"><tspan x="2317">+ __construct()</tspan><tspan x="2317" dy="15">+ getSetting()</tspan><tspan x="2317" dy="15">+ deleteSetting()</tspan><tspan x="2317" dy="15">+ getAllSettings()</tspan><tspan x="2317" dy="15">+ setSetting()</tspan><tspan x="2317" dy="15">+ getClientId()</tspan><tspan x="2317" dy="15">+ raiseError()</tspan><tspan x="2317" dy="15"># getSettingObject()</tspan></text></g>
<g id="n_Request"><rect class="b" x="1945" y="1189" width="153" height="93"/><text class="t c" x="2021" y="1204">ILIAS\Cache\Container</text><text class="t c" x="2021" y="1219">\Request</text><path class="s" d="M1945 1226H2098M1945 1244H2098"/><text class="t" x="1950" y="1259"><tspan x="1950">+ getContainerKey()</tspan><tspan x="1950" dy="15">+ isForced()</tspan></text></g>
<g id="n_ilCachedLanguage"><rect class="b" x="1779" y="1750" width="140" height="288"/><text class="t c" x="1849" y="1766">ilCachedLanguage</text><path class="s" d="M1779 1772H1919M1779 1790H1919"/><text class="t" x="1784" y="1805"><tspan x="1784">+ getContainerKey()</tspan><tspan x="1784" dy="15">+ isForced()</tspan><tspan x="1784" dy="15">+ isActive()</tspan><tspan x="1784" dy="15">+ writeToCache()</tspan><tspan x="1784" dy="15">+ deleteInCache()</tspan><tspan x="1784" dy="15">+ flush()</tspan><tspan x="1784" dy="15">+ setLanguageKey()</tspan><tspan x="1784" dy="15">+ getLanguageKey()</tspan><tspan x="1784" dy="15">+ setLoaded()</tspan><tspan x="1784" dy="15">+ getLoaded()</tspan><tspan x="1784" dy="15">+ setTranslations()</tspan><tspan x="1784" dy="15">+ getTranslations()</tspan><tspan x="1784" dy="15">+ getInstance()</tspan><tspan x="1784" dy="15"># __construct()</tspan><tspan x="1784" dy="15"># readFromCache()</tspan><tspan x="1784" dy="15"># readFromDB()</tspan></text></g>
<g id="n_Language"><rect class="b" x="2139" y="1839" width="173" height="108"/><text class="t c" x="2225" y="1855">ILIAS\Language\Language</text><path class="s" d="M2139 1861H2312M2139 1879H2312"/><text class="t" x="2144" y="1894"><tspan x="2144">+ txt()</tspan><tspan x="2144" dy="15">+ loadLanguageModule()</tspan><tspan x="2144" dy="15">+ getLangKey()</tspan><tspan x="2144" dy="15">+ toJS()</tspan></text></g>
<g id="n_ilLanguage"><rect class="b" x="2040" y="2378" width="179" height="333"/><text class="t c" x="2129" y="2394">ilLanguage</text><path class="s" d="M2040 2400H2219M2040 2418H2219"/><text class="t" x="2045" y="2433"><tspan x="2045">+ __construct()</tspan><tspan x="2045" dy="15">+ getLangKey()</tspan><tspan x="2045" dy="15">+ getDefaultLanguage()</tspan><tspan x="2045" dy="15">+ getTextDirection()</tspan><tspan x="2045" dy="15">+ getContentLanguage()</tspan><tspan x="2045" dy="15">+ toJSMap()</tspan><tspan x="2045" dy="15">+ toJS()</tspan><tspan x="2045" dy="15">+ txt()</tspan><tspan x="2045" dy="15">+ exists()</tspan><tspan x="2045" dy="15">+ loadLanguageModule()</tspan><tspan x="2045" dy="15">+ getInstalledLanguages()</tspan><tspan x="2045" dy="15">and 7 more...</tspan><tspan x="2045" dy="15">+ _getInstalledLanguages()</tspan><tspan x="2045" dy="15">+ _lookupEntry()</tspan><tspan x="2045" dy="15">+ lookupId()</tspan><tspan x="2045" dy="15">+ getFallbackInstance()</tspan><tspan x="2045" dy="15">+ getGlobalInstance()</tspan><tspan x="2045" dy="15"># logUsage()</tspan><tspan x="2045" dy="15"># isUsageLogEnabled()</tspan></text></g>
<g id="n_ilPageConfig"><rect class="b" x="2134" y="2958" width="191" height="443"/><text class="t c" x="2229" y="2974">ilPageConfig</text><path class="s" d="M2134 2980H2325M2134 3198H2325"/><text class="t" x="2139" y="2995"><tspan x="2139"># $int_link_def_id_is_ref</tspan><tspan x="2139" dy="15"># $link_filter_white_list</tspan><tspan x="2139" dy="15"># $page_toc</tspan><tspan x="2139" dy="15"># $prevent_rte_usage</tspan><tspan x="2139" dy="15"># $enabledinternallinks</tspan><tspan x="2139" dy="15"># $enable_keywords</tspan><tspan x="2139" dy="15"># $enable_anchors</tspan><tspan x="2139" dy="15"># $activation</tspan><tspan x="2139" dy="15"># $scheduled_activation</tspan><tspan x="2139" dy="15"># $enabledselfassessment_scorm</tspan><tspan x="2139" dy="15"># $multi_lang_support</tspan><tspan x="2139" dy="15"># $single_page_mode</tspan><tspan x="2139" dy="15"># $disable_default_qpl</tspan><tspan x="2139" dy="15"># $enable_permission_checks</tspan></text><text class="t" x="2139" y="3213"><tspan x="2139">+ __construct()</tspan><tspan x="2139" dy="15">+ init()</tspan><tspan x="2139" dy="15">+ setLayoutTemplateType()</tspan><tspan x="2139" dy="15">+ getLayoutTemplateType()</tspan><tspan x="2139" dy="15">+ setEnablePCType()</tspan><tspan x="2139" dy="15">+ getEnablePCType()</tspan><tspan x="2139" dy="15">+ getEnabledTopPCTypes()</tspan><tspan x="2139" dy="15">+ setEnableKeywords()</tspan><tspan x="2139" dy="15">+ getEnableKeywords()</tspan><tspan x="2139" dy="15">+ setEnableAnchors()</tspan><tspan x="2139" dy="15">and 53 more...</tspan><tspan x="2139" dy="15"># loadPCDefs()</tspan><tspan x="2139" dy="15"># loadParentKey()</tspan></text></g>
<g id="n_ilCtrl"><rect class="b" x="2812" y="1054" width="191" height="348"/><text class="t c" x="2907" y="1070">ilCtrl</text><path class="s" d="M2812 1076H3003M2812 1094H3003"/><text class="t" x="2817" y="1109"><tspan x="2817">+ __construct()</tspan><tspan x="2817" dy="15">+ __clone()</tspan><tspan x="2817" dy="15">+ callBaseClass()</tspan><tspan x="2817" dy="15">+ forwardCommand()</tspan><tspan x="2817" dy="15">+ getHTML()</tspan><tspan x="2817" dy="15">+ getCmd()</tspan><tspan x="2817" dy="15">+ getCmdClass()</tspan><tspan x="2817" dy="15">+ getNextClass()</tspan><tspan x="2817" dy="15">+ saveParameter()</tspan><tspan x="2817" dy="15">+ saveParameterByClass()</tspan><tspan x="2817" dy="15">and 34 more...</tspan><tspan x="2817" dy="15"># getDeterminedCommand()</tspan><tspan x="2817" dy="15">- getQueryParam()</tspan><tspan x="2817" dy="15">- getTableCommand()</tspan><tspan x="2817" dy="15">- getPostCommand()</tspan><tspan x="2817" dy="15">- getTargetUrl()</tspan><tspan x="2817" dy="15">- isCmdSecure()</tspan><tspan x="2817" dy="15">- appendParameterStringsByClass()</tspan><tspan x="2817" dy="15">- populateCall()</tspan><tspan x="2817" dy="15">- getClassByObject()</tspan></text></g>
<g id="n_ilObjectDefinition"><rect class="b" x="3749" y="1071" width="219" height="318"/><text class="t c" x="3858" y="1087">ilObjectDefinition</text><path class="s" d="M3749 1093H3968M3749 1111H3968"/><text class="t" x="3754" y="1126"><tspan x="3754">+ __construct()</tspan><tspan x="3754" dy="15">+ readDefinitionData()</tspan><tspan x="3754" dy="15">+ getClassName()</tspan><tspan x="3754" dy="15">+ getLocation()</tspan><tspan x="3754" dy="15">+ getGroup()</tspan><tspan x="3754" dy="15">+ getGroupOfObj()</tspan><tspan x="3754" dy="15">+ hasCheckbox()</tspan><tspan x="3754" dy="15">+ getTranslationType()</tspan><tspan x="3754" dy="15">+ stopInheritance()</tspan><tspan x="3754" dy="15">+ getDevMode()</tspan><tspan x="3754" dy="15">and 86 more...</tspan><tspan x="3754" dy="15">+ getRepositoryObjectTypes</tspan><tspan x="3754" dy="15">ForComponent()</tspan><tspan x="3754" dy="15">+ getComponentForType()</tspan><tspan x="3754" dy="15">+ getGroupedRepositoryObjectTypes()</tspan><tspan x="3754" dy="15"># readPluginData()</tspan><tspan x="3754" dy="15"># parsePluginData()</tspan><tspan x="3754" dy="15"># getGroupedPluginObjectTypes()</tspan></text></g>
<g id="n_ilTreeImplementation"><rect class="b" x="4297" y="1128" width="179" height="213"/><text class="t c" x="4386" y="1144">ilTreeImplementation</text><path class="s" d="M4297 1150H4476M4297 1168H4476"/><text class="t" x="4302" y="1183"><tspan x="4302">+ getSubTreeIds()</tspan><tspan x="4302" dy="15">+ getSubTreeQuery()</tspan><tspan x="4302" dy="15">+ getTrashSubTreeQuery()</tspan><tspan x="4302" dy="15">+ getRelation()</tspan><tspan x="4302" dy="15">+ getPathIds()</tspan><tspan x="4302" dy="15">+ insertNode()</tspan><tspan x="4302" dy="15">+ deleteTree()</tspan><tspan x="4302" dy="15">+ moveToTrash()</tspan><tspan x="4302" dy="15">+ moveTree()</tspan><tspan x="4302" dy="15">+ getSubtreeInfo()</tspan><tspan x="4302" dy="15">+ validateParentRelations()</tspan></text></g>
<g id="n_ilAppEventHandler"><rect class="b" x="4905" y="1189" width="131" height="93"/><text class="t c" x="4970" y="1205">ilAppEventHandler</text><path class="s" d="M4905 1211H5036M4905 1229H5036"/><text class="t" x="4910" y="1244"><tspan x="4910">+ __construct()</tspan><tspan x="4910" dy="15">+ raise()</tspan><tspan x="4910" dy="15"># initListeners()</tspan></text></g>
<g id="n_ilTree"><rect class="b" x="4426" y="1708" width="225" height="368"/><text class="t c" x="4538" y="1724">ilTree</text><path class="s" d="M4426 1730H4651M4426 1753H4651"/><text class="t" x="4431" y="1745"># DEFAULT_GAP</text><text class="t" x="4431" y="1768"><tspan x="4431">+ __construct()</tspan><tspan x="4431" dy="15">+ initTreeImplementation()</tspan><tspan x="4431" dy="15">+ getTreeImplementation()</tspan><tspan x="4431" dy="15">+ useCache()</tspan><tspan x="4431" dy="15">+ getDepthCache()</tspan><tspan x="4431" dy="15">+ getParentCache()</tspan><tspan x="4431" dy="15">+ initLangCode()</tspan><tspan x="4431" dy="15">+ getTreeTable()</tspan><tspan x="4431" dy="15">+ getObjectDataTable()</tspan><tspan x="4431" dy="15">+ getTreePk()</tspan><tspan x="4431" dy="15">and 80 more...</tspan><tspan x="4431" dy="15">+ lookupTreesForNode()</tspan><tspan x="4431" dy="15">+ _removeEntry()</tspan><tspan x="4431" dy="15"># isCacheUsed()</tspan><tspan x="4431" dy="15"># resetInTreeCache()</tspan><tspan x="4431" dy="15"># fetchTranslationFromObject</tspan><tspan x="4431" dy="15">DataCache()</tspan><tspan x="4431" dy="15"># __renumber()</tspan><tspan x="4431" dy="15"># __checkDelete()</tspan><tspan x="4431" dy="15"># __getSubTreeByParentRelation()</tspan><tspan x="4431" dy="15"># __validateSubtrees()</tspan><tspan x="4431" dy="15"># isRepositoryTree()</tspan></text></g>
<g id="n_Properties"><rect class="b" x="3957" y="2407" width="232" height="258"/><text class="t c" x="4073" y="2422">ILIAS\ILIASObject\Properties</text><text class="t c" x="4073" y="2437">\Properties</text><path class="s" d="M3957 2444H4189M3957 2462H4189"/><text class="t" x="3962" y="2477"><tspan x="3962">+ __construct()</tspan><tspan x="3962" dy="15">+ storeCoreProperties()</tspan><tspan x="3962" dy="15">+ getOwner()</tspan><tspan x="3962" dy="15">+ withOwner()</tspan><tspan x="3962" dy="15">+ getImportId()</tspan><tspan x="3962" dy="15">+ withImportId()</tspan><tspan x="3962" dy="15">+ getPropertyTitleAndDescription()</tspan><tspan x="3962" dy="15">+ withPropertyTitleAndDescription()</tspan><tspan x="3962" dy="15">+ storePropertyTitleAndDescription()</tspan><tspan x="3962" dy="15">+ getPropertyIsOnline()</tspan><tspan x="3962" dy="15">and 16 more...</tspan><tspan x="3962" dy="15">- updateMetadataForTitleAnd</tspan><tspan x="3962" dy="15">Description()</tspan></text></g>
<g id="n_Aggregator"><rect class="b" x="4214" y="2480" width="195" height="108"/><text class="t c" x="4311" y="2495">ILIAS\ILIASObject\Properties</text><text class="t c" x="4311" y="2510">\Aggregator</text><path class="s" d="M4214 2517H4409M4214 2535H4409"/><text class="t" x="4219" y="2550"><tspan x="4219">+ __construct()</tspan><tspan x="4219" dy="15">+ getFor()</tspan><tspan x="4219" dy="15">+ preload()</tspan></text></g>
<g id="n_ilObject"><rect class="b" x="4170" y="2869" width="228" height="618"/><text class="t c" x="4284" y="2885">ilObject</text><path class="s" d="M4170 2891H4398M4170 2909H4398"/><text class="t" x="4175" y="2924"><tspan x="4175">+ getObjectProperties()</tspan><tspan x="4175" dy="15">+ flushObjectProperties()</tspan><tspan x="4175" dy="15">+ withReferences()</tspan><tspan x="4175" dy="15">+ processAutoRating()</tspan><tspan x="4175" dy="15">+ read()</tspan><tspan x="4175" dy="15">+ getId()</tspan><tspan x="4175" dy="15">+ setId()</tspan><tspan x="4175" dy="15">+ setRefId()</tspan><tspan x="4175" dy="15">+ getRefId()</tspan><tspan x="4175" dy="15">+ getType()</tspan><tspan x="4175" dy="15">and 40 more...</tspan><tspan x="4175" dy="15">+ _lookupObjIdByImportId()</tspan><tspan x="4175" dy="15">+ _lookupImportId()</tspan><tspan x="4175" dy="15">+ _lookupOwnerName()</tspan><tspan x="4175" dy="15">+ _getIdsForImportId()</tspan><tspan x="4175" dy="15">+ _getAllReferences()</tspan><tspan x="4175" dy="15">+ _lookupTitle()</tspan><tspan x="4175" dy="15">+ _lookupOfflineStatus()</tspan><tspan x="4175" dy="15">+ _lookupOwner()</tspan><tspan x="4175" dy="15">+ _getIdsForTitle()</tspan><tspan x="4175" dy="15">+ _lookupDescription()</tspan><tspan x="4175" dy="15">and 27 more...</tspan><tspan x="4175" dy="15"># doMDUpdateListener()</tspan><tspan x="4175" dy="15"># beforeMDUpdateListener()</tspan><tspan x="4175" dy="15"># doCreateMetaData()</tspan><tspan x="4175" dy="15"># beforeCreateMetaData()</tspan><tspan x="4175" dy="15"># doUpdateMetaData()</tspan><tspan x="4175" dy="15"># beforeUpdateMetaData()</tspan><tspan x="4175" dy="15"># doDeleteMetaData()</tspan><tspan x="4175" dy="15"># beforeDeleteMetaData()</tspan><tspan x="4175" dy="15"># handleAutoRating()</tspan><tspan x="4175" dy="15"># hasAutoRating()</tspan><tspan x="4175" dy="15">- appendCopyInfoToTranslations()</tspan><tspan x="4175" dy="15">- getCallbackForTitlesPerLanguage</tspan><tspan x="4175" dy="15">Transformation()</tspan><tspan x="4175" dy="15">- appendNumberOfCopiesToTitle()</tspan><tspan x="4175" dy="15">- isTitleUnique()</tspan><tspan x="4175" dy="15">- buildTitleWithoutCopySuffix()</tspan></text></g>
<g id="n_ilObjUser"><rect class="b" x="4228" y="3582" width="203" height="758"/><text class="t c" x="4329" y="3598">ilObjUser</text><path class="s" d="M4228 3604H4431M4228 3942H4431"/><text class="t" x="4233" y="3619"><tspan x="4233">+ $login</tspan><tspan x="4233" dy="15">+ $gender</tspan><tspan x="4233" dy="15">+ $utitle</tspan><tspan x="4233" dy="15">+ $firstname</tspan><tspan x="4233" dy="15">+ $lastname</tspan><tspan x="4233" dy="15">+ $fullname</tspan><tspan x="4233" dy="15">+ $department</tspan><tspan x="4233" dy="15">+ $street</tspan><tspan x="4233" dy="15">+ $city</tspan><tspan x="4233" dy="15">+ $country</tspan><tspan x="4233" dy="15">and 42 more...</tspan><tspan x="4233" dy="15"># $time_limit_message</tspan><tspan x="4233" dy="15"># $last_login</tspan><tspan x="4233" dy="15"># $passwd</tspan><tspan x="4233" dy="15"># $password_encoding_type</tspan><tspan x="4233" dy="15"># $password_salt</tspan><tspan x="4233" dy="15"># $birthday</tspan><tspan x="4233" dy="15"># $second_email</tspan><tspan x="4233" dy="15"># $inactivation_date</tspan><tspan x="4233" dy="15"># $org_units</tspan><tspan x="4233" dy="15"># $last_profile_prompt</tspan><tspan x="4233" dy="15"># $avatar_rid</tspan></text><text class="t" x="4233" y="3957"><tspan x="4233">+ __construct()</tspan><tspan x="4233" dy="15">+ read()</tspan><tspan x="4233" dy="15">+ getPasswordEncodingType()</tspan><tspan x="4233" dy="15">+ setPasswordEncodingType()</tspan><tspan x="4233" dy="15">+ getPasswordSalt()</tspan><tspan x="4233" dy="15">+ setPasswordSalt()</tspan><tspan x="4233" dy="15">+ assignData()</tspan><tspan x="4233" dy="15">+ saveAsNew()</tspan><tspan x="4233" dy="15">+ update()</tspan><tspan x="4233" dy="15">+ writeAccepted()</tspan><tspan x="4233" dy="15">and 169 more...</tspan><tspan x="4233" dy="15">+ _lookupFullname()</tspan><tspan x="4233" dy="15">+ _lookupEmail()</tspan><tspan x="4233" dy="15">+ _lookupGender()</tspan><tspan x="4233" dy="15">+ _lookupClientIP()</tspan><tspan x="4233" dy="15">+ _lookupName()</tspan><tspan x="4233" dy="15">+ _lookupFields()</tspan><tspan x="4233" dy="15">+ _lookupLogin()</tspan><tspan x="4233" dy="15">+ _lookupExternalAccount()</tspan><tspan x="4233" dy="15">+ _lookupId()</tspan><tspan x="4233" dy="15">+ _lookupLastLogin()</tspan><tspan x="4233" dy="15">and 82 more...</tspan><tspan x="4233" dy="15"># buildTextFromArray()</tspan><tspan x="4233" dy="15"># readMultiTextFields()</tspan><tspan x="4233" dy="15"># deleteMultiTextFields()</tspan><tspan x="4233" dy="15">- _lookupLoginFromAuth()</tspan></text></g>
<g id="n_ilLearningHistoryService"><rect class="b" x="5005" y="4592" width="165" height="198"/><text class="t c" x="5087" y="4608">ilLearningHistoryService</text><path class="s" d="M5005 4614H5170M5005 4632H5170"/><text class="t" x="5010" y="4647"><tspan x="5010">+ __construct()</tspan><tspan x="5010" dy="15">+ request()</tspan><tspan x="5010" dy="15">+ repositoryTree()</tspan><tspan x="5010" dy="15">+ access()</tspan><tspan x="5010" dy="15">+ user()</tspan><tspan x="5010" dy="15">+ language()</tspan><tspan x="5010" dy="15">+ ui()</tspan><tspan x="5010" dy="15">+ factory()</tspan><tspan x="5010" dy="15">+ provider()</tspan><tspan x="5010" dy="15">+ isActive()</tspan></text></g>
<g id="n_ilRbacReview"><rect class="b" x="5248" y="1019" width="218" height="438"/><text class="t c" x="5357" y="1035">ilRbacReview</text><path class="s" d="M5248 1041H5466M5248 1059H5466"/><text class="t" x="5253" y="1074"><tspan x="5253">+ __construct()</tspan><tspan x="5253" dy="15">+ roleExists()</tspan><tspan x="5253" dy="15">+ getParentRoleIds()</tspan><tspan x="5253" dy="15">+ getRoleListByObject()</tspan><tspan x="5253" dy="15">+ getAssignableRoles()</tspan><tspan x="5253" dy="15">+ getAssignableRolesInSubtree()</tspan><tspan x="5253" dy="15">+ getAssignableChildRoles()</tspan><tspan x="5253" dy="15">+ getNumberOfAssignedUsers()</tspan><tspan x="5253" dy="15">+ assignedUsers()</tspan><tspan x="5253" dy="15">+ isAssigned()</tspan><tspan x="5253" dy="15">and 43 more...</tspan><tspan x="5253" dy="15">+ _getOperationIdsByName()</tspan><tspan x="5253" dy="15">+ _getOperationIdByName()</tspan><tspan x="5253" dy="15">+ lookupCreateOperationIds()</tspan><tspan x="5253" dy="15">+ _getOperationList()</tspan><tspan x="5253" dy="15">+ _groupOperationsByClass()</tspan><tspan x="5253" dy="15">+ _getCustomRBACOperationId()</tspan><tspan x="5253" dy="15">+ _isRBACOperation()</tspan><tspan x="5253" dy="15"># __getParentRoles()</tspan><tspan x="5253" dy="15"># __setTemplateFilter()</tspan><tspan x="5253" dy="15"># __setRoleType()</tspan><tspan x="5253" dy="15"># __setProtectedStatus()</tspan><tspan x="5253" dy="15">- getAssignableRolesGenerator()</tspan><tspan x="5253" dy="15">- setRoleTypeAndProtection()</tspan><tspan x="5253" dy="15">- buildRoleType()</tspan><tspan x="5253" dy="15">- buildProtectionByStringValue()</tspan></text></g>
<g id="n_ilRbacAdmin"><rect class="b" x="5248" y="1769" width="189" height="243"/><text class="t c" x="5342" y="1785">ilRbacAdmin</text><path class="s" d="M5248 1791H5437M5248 1809H5437"/><text class="t" x="5253" y="1824"><tspan x="5253">+ __construct()</tspan><tspan x="5253" dy="15">+ setBlockedStatus()</tspan><tspan x="5253" dy="15">+ removeUser()</tspan><tspan x="5253" dy="15">+ deleteRole()</tspan><tspan x="5253" dy="15">+ deleteTemplate()</tspan><tspan x="5253" dy="15">+ deleteLocalRole()</tspan><tspan x="5253" dy="15">+ assignUserLimited()</tspan><tspan x="5253" dy="15">+ assignUser()</tspan><tspan x="5253" dy="15">+ deassignUser()</tspan><tspan x="5253" dy="15">+ grantPermission()</tspan><tspan x="5253" dy="15">and 18 more...</tspan><tspan x="5253" dy="15"># applyMovedObjectDidactic</tspan><tspan x="5253" dy="15">Templates()</tspan></text></g>
<g id="n_RSServices"><rect class="b" x="6657" y="1144" width="158" height="183"/><text class="t c" x="6736" y="1159">ILIAS\ResourceStorage</text><text class="t c" x="6736" y="1174">\Services</text><path class="s" d="M6657 1181H6815M6657 1199H6815"/><text class="t" x="6662" y="1214"><tspan x="6662">+ __construct()</tspan><tspan x="6662" dy="15">+ manage()</tspan><tspan x="6662" dy="15">+ manageContainer()</tspan><tspan x="6662" dy="15">+ consume()</tspan><tspan x="6662" dy="15">+ collection()</tspan><tspan x="6662" dy="15">+ flavours()</tspan><tspan x="6662" dy="15">+ preload()</tspan><tspan x="6662" dy="15">+ events()</tspan></text></g>
<g id="n_ilCronDeleteInactiveUserReminderMail"><rect class="b" x="6628" y="1487" width="211" height="183"/><text class="t c" x="6733" y="1502">ilCronDeleteInactiveUser</text><text class="t c" x="6733" y="1517">ReminderMail</text><path class="s" d="M6628 1524H6839M6628 1542H6839"/><text class="t" x="6633" y="1557"><tspan x="6633">+ __construct()</tspan><tspan x="6633" dy="15">+ removeEntriesFromTableIf</tspan><tspan x="6633" dy="15">LastLoginIsNewer()</tspan><tspan x="6633" dy="15">+ sendReminderMailIfNeeded()</tspan><tspan x="6633" dy="15">+ flushDataTable()</tspan><tspan x="6633" dy="15">+ removeSingleUserFromTable()</tspan><tspan x="6633" dy="15">- persistMailSent()</tspan><tspan x="6633" dy="15">- sendReminder()</tspan></text></g>
<g id="n_SessionRepository"><rect class="b" x="5712" y="2113" width="158" height="228"/><text class="t c" x="5791" y="2128">ILIAS\COPage\Editor</text><text class="t c" x="5791" y="2143">\Edit\SessionRepository</text><path class="s" d="M5712 2150H5870M5712 2168H5870"/><text class="t" x="5717" y="2183"><tspan x="5717">+ __construct()</tspan><tspan x="5717" dy="15">+ clear()</tspan><tspan x="5717" dy="15">+ clearPageError()</tspan><tspan x="5717" dy="15">+ setPageError()</tspan><tspan x="5717" dy="15">+ getPageError()</tspan><tspan x="5717" dy="15">+ clearSubCmd()</tspan><tspan x="5717" dy="15">+ setSubCmd()</tspan><tspan x="5717" dy="15">+ getSubCmd()</tspan><tspan x="5717" dy="15">+ clearTextLang()</tspan><tspan x="5717" dy="15">+ setTextLang()</tspan><tspan x="5717" dy="15">and 7 more...</tspan></text></g>
<g id="n_ilGlobalTemplateInterface"><rect class="b" x="5817" y="2750" width="170" height="58"/><text class="t c" x="5902" y="2766">ilGlobalTemplateInterface</text><path class="s" d="M5817 2772H5987M5817 2790H5987"/></g>
<g id="n_ilOrgUnitPositionAccessHandler"><rect class="b" x="5657" y="3052" width="253" height="258"/><text class="t c" x="5783" y="3068">ilOrgUnitPositionAccessHandler</text><path class="s" d="M5657 3074H5910M5657 3092H5910"/><text class="t" x="5662" y="3107"><tspan x="5662">+ filterUserIdsForCurrentUsers</tspan><tspan x="5662" dy="15">PositionsAndPermission()</tspan><tspan x="5662" dy="15">+ filterUserIdsForUsersPositions</tspan><tspan x="5662" dy="15">AndPermission()</tspan><tspan x="5662" dy="15">+ isCurrentUserBasedOnPositions</tspan><tspan x="5662" dy="15">AllowedTo()</tspan><tspan x="5662" dy="15">+ isUserBasedOnPositionsAllowedTo()</tspan><tspan x="5662" dy="15">+ checkPositionAccess()</tspan><tspan x="5662" dy="15">+ hasCurrentUserAnyPosition</tspan><tspan x="5662" dy="15">Access()</tspan><tspan x="5662" dy="15">+ filterUserIdsByPositionOf</tspan><tspan x="5662" dy="15">CurrentUser()</tspan><tspan x="5662" dy="15">+ filterUserIdsByPositionOfUser()</tspan></text></g>
<g id="n_ilOrgUnitPositionAndRBACAccessHandler"><rect class="b" x="5932" y="3095" width="227" height="153"/><text class="t c" x="6045" y="3110">ilOrgUnitPositionAndRBACAccess</text><text class="t c" x="6045" y="3125">Handler</text><path class="s" d="M5932 3132H6159M5932 3150H6159"/><text class="t" x="5937" y="3165"><tspan x="5937">+ checkRbacOrPositionPermission</tspan><tspan x="5937" dy="15">Access()</tspan><tspan x="5937" dy="15">+ filterUserIdsByRbacOrPosition</tspan><tspan x="5937" dy="15">OfCurrentUser()</tspan><tspan x="5937" dy="15">+ hasUserRBACorAnyPosition</tspan><tspan x="5937" dy="15">Access()</tspan></text></g>
<g id="n_ilRBACAccessHandler"><rect class="b" x="6183" y="3069" width="216" height="213"/><text class="t c" x="6291" y="3085">ilRBACAccessHandler</text><path class="s" d="M6183 3091H6399M6183 3109H6399"/><text class="t" x="6188" y="3124"><tspan x="6188">+ storeAccessResult()</tspan><tspan x="6188" dy="15">+ getStoredAccessResult()</tspan><tspan x="6188" dy="15">+ setPreventCachingLastResult()</tspan><tspan x="6188" dy="15">+ getPreventCachingLastResult()</tspan><tspan x="6188" dy="15">+ getResults()</tspan><tspan x="6188" dy="15">+ setResults()</tspan><tspan x="6188" dy="15">+ addInfoItem()</tspan><tspan x="6188" dy="15">+ checkAccess()</tspan><tspan x="6188" dy="15">+ checkAccessOfUser()</tspan><tspan x="6188" dy="15">+ getInfo()</tspan><tspan x="6188" dy="15">and 11 more...</tspan></text></g>
<g id="n_ilAccessHandler"><rect class="b" x="5856" y="3926" width="118" height="58"/><text class="t c" x="5915" y="3942">ilAccessHandler</text><path class="s" d="M5856 3948H5974M5856 3966H5974"/></g>
<g id="n_ilObjStyleSheet"><rect class="b" x="1008" y="3715" width="169" height="503"/><text class="t c" x="1092" y="3731">ilObjStyleSheet</text><path class="s" d="M1008 3737H1177M1008 3865H1177"/><text class="t" x="1013" y="3752"><tspan x="1013">+ $num_unit_no_perc</tspan><tspan x="1013" dy="15">+ $expandable_types</tspan><tspan x="1013" dy="15">+ $hidable_types</tspan><tspan x="1013" dy="15">+ $assigned_tags</tspan><tspan x="1013" dy="15">+ $core</tspan><tspan x="1013" dy="15">+ $core_styles</tspan><tspan x="1013" dy="15">+ $templates</tspan><tspan x="1013" dy="15"># $basic_style_image_dir</tspan></text><text class="t" x="1013" y="3880"><tspan x="1013">+ __construct()</tspan><tspan x="1013" dy="15">+ setUpToDate()</tspan><tspan x="1013" dy="15">+ getUpToDate()</tspan><tspan x="1013" dy="15">+ setScope()</tspan><tspan x="1013" dy="15">+ getScope()</tspan><tspan x="1013" dy="15">+ create()</tspan><tspan x="1013" dy="15">+ characteristicExists()</tspan><tspan x="1013" dy="15">+ addCharacteristic()</tspan><tspan x="1013" dy="15">+ getCharacteristics()</tspan><tspan x="1013" dy="15">+ setCharacteristics()</tspan><tspan x="1013" dy="15">and 66 more...</tspan><tspan x="1013" dy="15">+ getBasicZipPath()</tspan><tspan x="1013" dy="15">+ writeOwner()</tspan><tspan x="1013" dy="15">+ _lookupUpToDate()</tspan><tspan x="1013" dy="15">+ _writeUpToDate()</tspan><tspan x="1013" dy="15">+ _writeScope()</tspan><tspan x="1013" dy="15">+ _lookupStandard()</tspan><tspan x="1013" dy="15">+ _writeStandard()</tspan><tspan x="1013" dy="15">+ _writeActive()</tspan><tspan x="1013" dy="15">+ _lookupActive()</tspan><tspan x="1013" dy="15">+ _getStandardStyles()</tspan><tspan x="1013" dy="15">and 58 more...</tspan><tspan x="1013" dy="15"># readDB()</tspan></text></g>
<g id="n_Component"><rect class="b" x="801" y="4658" width="199" height="63"/><text class="t c" x="900" y="4674">ILIAS\Component\Component</text><path class="s" d="M801 4680H1000M801 4698H1000"/><text class="t" x="806" y="4713">+ init()</text></g>
<g id="n_PageManagerInterface"><rect class="b" x="1483" y="4648" width="170" height="93"/><text class="t c" x="1568" y="4663">ILIAS\UI\Implementation</text><text class="t c" x="1568" y="4678">\Component\Layout\Page</text><text class="t c" x="1568" y="4693">\PageManagerInterface</text><path class="s" d="M1483 4700H1653M1483 4718H1653"/><text class="t" x="1488" y="4733">+ get()</text></g>
<g id="n_ObjectAdapterInterface"><rect class="b" x="1678" y="4638" width="164" height="108"/><text class="t c" x="1760" y="4653">ILIAS\Repository\Object</text><text class="t c" x="1760" y="4668">\ObjectAdapterInterface</text><path class="s" d="M1678 4675H1842M1678 4693H1842"/><text class="t" x="1683" y="4708"><tspan x="1683">+ getObjIdForRefId()</tspan><tspan x="1683" dy="15">+ getTypeForObjId()</tspan><tspan x="1683" dy="15">+ getTitleForObjId()</tspan></text></g>
<g id="n_ilPageContent"><rect class="b" x="1735" y="5047" width="219" height="408"/><text class="t c" x="1844" y="5063">ilPageContent</text><path class="s" d="M1735 5069H1954M1735 5087H1954"/><text class="t" x="1740" y="5102"><tspan x="1740">+ __construct()</tspan><tspan x="1740" dy="15">+ setPage()</tspan><tspan x="1740" dy="15">+ getPage()</tspan><tspan x="1740" dy="15">+ init()</tspan><tspan x="1740" dy="15">+ getType()</tspan><tspan x="1740" dy="15">+ getDomNode()</tspan><tspan x="1740" dy="15">+ getDomDoc()</tspan><tspan x="1740" dy="15">+ setDomNode()</tspan><tspan x="1740" dy="15">+ getChildNode()</tspan><tspan x="1740" dy="15">+ getJavascriptFiles()</tspan><tspan x="1740" dy="15">and 29 more...</tspan><tspan x="1740" dy="15">+ sortHierIds()</tspan><tspan x="1740" dy="15">+ isGreaterHierId()</tspan><tspan x="1740" dy="15">+ getLangVars()</tspan><tspan x="1740" dy="15">+ handleCopiedContent()</tspan><tspan x="1740" dy="15">+ afterPageUpdate()</tspan><tspan x="1740" dy="15">+ beforePageDelete()</tspan><tspan x="1740" dy="15">+ afterRepositoryCopy()</tspan><tspan x="1740" dy="15">+ afterPageHistoryEntry()</tspan><tspan x="1740" dy="15">+ deleteHistoryLowerEqualThan()</tspan><tspan x="1740" dy="15"># getPageManager()</tspan><tspan x="1740" dy="15"># setType()</tspan><tspan x="1740" dy="15"># setNode()</tspan><tspan x="1740" dy="15"># createInitialChildNode()</tspan></text></g>
<g id="n_Style"><rect class="b" x="801" y="5213" width="95" height="63"/><text class="t c" x="848" y="5229">ILIAS\Style</text><path class="s" d="M801 5235H896M801 5253H896"/><text class="t" x="806" y="5268">+ init()</text></g>
<g id="n_EditGUIRequest"><rect class="b" x="915" y="5143" width="234" height="198"/><text class="t c" x="1032" y="5159">ILIAS\COPage\PC\EditGUIRequest</text><path class="s" d="M915 5165H1149M915 5183H1149"/><text class="t" x="920" y="5198"><tspan x="920">+ __construct()</tspan><tspan x="920" dy="15">+ getSubCmd()</tspan><tspan x="920" dy="15">+ getRefId()</tspan><tspan x="920" dy="15">+ getHierId()</tspan><tspan x="920" dy="15">+ getPCId()</tspan><tspan x="920" dy="15">+ getInt()</tspan><tspan x="920" dy="15">+ getString()</tspan><tspan x="920" dy="15">+ getRaw()</tspan><tspan x="920" dy="15">+ getIntArray()</tspan><tspan x="920" dy="15">+ getStringArray()</tspan></text></g>
<g id="n_ilPageContentGUI"><rect class="b" x="2136" y="5527" width="182" height="338"/><text class="t c" x="2227" y="5543">ilPageContentGUI</text><path class="s" d="M2136 5549H2318M2136 5572H2318"/><text class="t" x="2141" y="5564">+ $updated</text><text class="t" x="2141" y="5587"><tspan x="2141">+ __construct()</tspan><tspan x="2141" dy="15">+ setContentObject()</tspan><tspan x="2141" dy="15">+ getContentObject()</tspan><tspan x="2141" dy="15">+ setPage()</tspan><tspan x="2141" dy="15">+ getPage()</tspan><tspan x="2141" dy="15">+ setPageConfig()</tspan><tspan x="2141" dy="15">+ getPageConfig()</tspan><tspan x="2141" dy="15">+ setStyleId()</tspan><tspan x="2141" dy="15">+ getStyleId()</tspan><tspan x="2141" dy="15">+ getStyle()</tspan><tspan x="2141" dy="15">and 14 more...</tspan><tspan x="2141" dy="15">+ _getCommonBBButtons()</tspan><tspan x="2141" dy="15"># redirectToParent()</tspan><tspan x="2141" dy="15"># getParentReturn()</tspan><tspan x="2141" dy="15"># updateAndReturn()</tspan><tspan x="2141" dy="15"># setCurrentTextLang()</tspan><tspan x="2141" dy="15"># getCurrentTextLang()</tspan><tspan x="2141" dy="15"># setEditorToolContext()</tspan><tspan x="2141" dy="15"># initEditor()</tspan><tspan x="2141" dy="15"># getEditorScriptTag()</tspan></text></g>
<g id="n_ilPageObject"><rect class="b" x="2520" y="4412" width="234" height="578"/><text class="t c" x="2637" y="4428">ilPageObject</text><path class="s" d="M2520 4434H2754M2520 4472H2754"/><text class="t" x="2525" y="4449"><tspan x="2525">+ $encoding</tspan><tspan x="2525" dy="15"># $concrete_lang</tspan></text><text class="t" x="2525" y="4487"><tspan x="2525">+ __construct()</tspan><tspan x="2525" dy="15">+ setContentIdManager()</tspan><tspan x="2525" dy="15">+ afterConstructor()</tspan><tspan x="2525" dy="15">+ getParentType()</tspan><tspan x="2525" dy="15">+ initPageConfig()</tspan><tspan x="2525" dy="15">+ setLanguage()</tspan><tspan x="2525" dy="15">+ getLanguage()</tspan><tspan x="2525" dy="15">+ setPageConfig()</tspan><tspan x="2525" dy="15">+ setConcreteLang()</tspan><tspan x="2525" dy="15">+ getConcreteLang()</tspan><tspan x="2525" dy="15">and 126 more...</tspan><tspan x="2525" dy="15">+ _exists()</tspan><tspan x="2525" dy="15">+ _existsAndNotEmpty()</tspan><tspan x="2525" dy="15">+ preloadActivationDataByParentId()</tspan><tspan x="2525" dy="15">+ _lookupActive()</tspan><tspan x="2525" dy="15">+ _isScheduledActivation()</tspan><tspan x="2525" dy="15">+ _writeActive()</tspan><tspan x="2525" dy="15">+ _lookupActivationData()</tspan><tspan x="2525" dy="15">+ lookupParentId()</tspan><tspan x="2525" dy="15">+ _writeParentId()</tspan><tspan x="2525" dy="15">+ _lookupContainsDeactivated</tspan><tspan x="2525" dy="15">Elements()</tspan><tspan x="2525" dy="15">and 9 more...</tspan><tspan x="2525" dy="15"># getIliasAbsolutePath()</tspan><tspan x="2525" dy="15"># getLangVarXML()</tspan><tspan x="2525" dy="15"># __afterUpdate()</tspan><tspan x="2525" dy="15"># isTranslationPage()</tspan><tspan x="2525" dy="15"># __beforeDelete()</tspan><tspan x="2525" dy="15"># __afterDelete()</tspan><tspan x="2525" dy="15"># afterDelete()</tspan><tspan x="2525" dy="15"># __afterHistoryEntry()</tspan><tspan x="2525" dy="15"># getContentManager()</tspan><tspan x="2525" dy="15"># setCopyProperties()</tspan><tspan x="2525" dy="15"># setTranslationProperties()</tspan></text></g>
<g id="n_ilPCLearningHistoryGUI"><rect class="g" x="4531" y="5892" width="202" height="183"/><text class="t c" x="4632" y="5908">ilPCLearningHistoryGUI</text><path class="s" d="M4531 5914H4733M4531 5932H4733"/><text class="t" x="4536" y="5947"><tspan x="4536">+ __construct()</tspan><tspan x="4536" dy="15">+ executeCommand()</tspan><tspan x="4536" dy="15">+ insert()</tspan><tspan x="4536" dy="15">+ edit()</tspan><tspan x="4536" dy="15">+ create_lhist()</tspan><tspan x="4536" dy="15">+ create()</tspan><tspan x="4536" dy="15">+ update()</tspan><tspan x="4536" dy="15">+ getPlaceholderPresentation()</tspan><tspan x="4536" dy="15"># initForm()</tspan></text></g>
</svg>
